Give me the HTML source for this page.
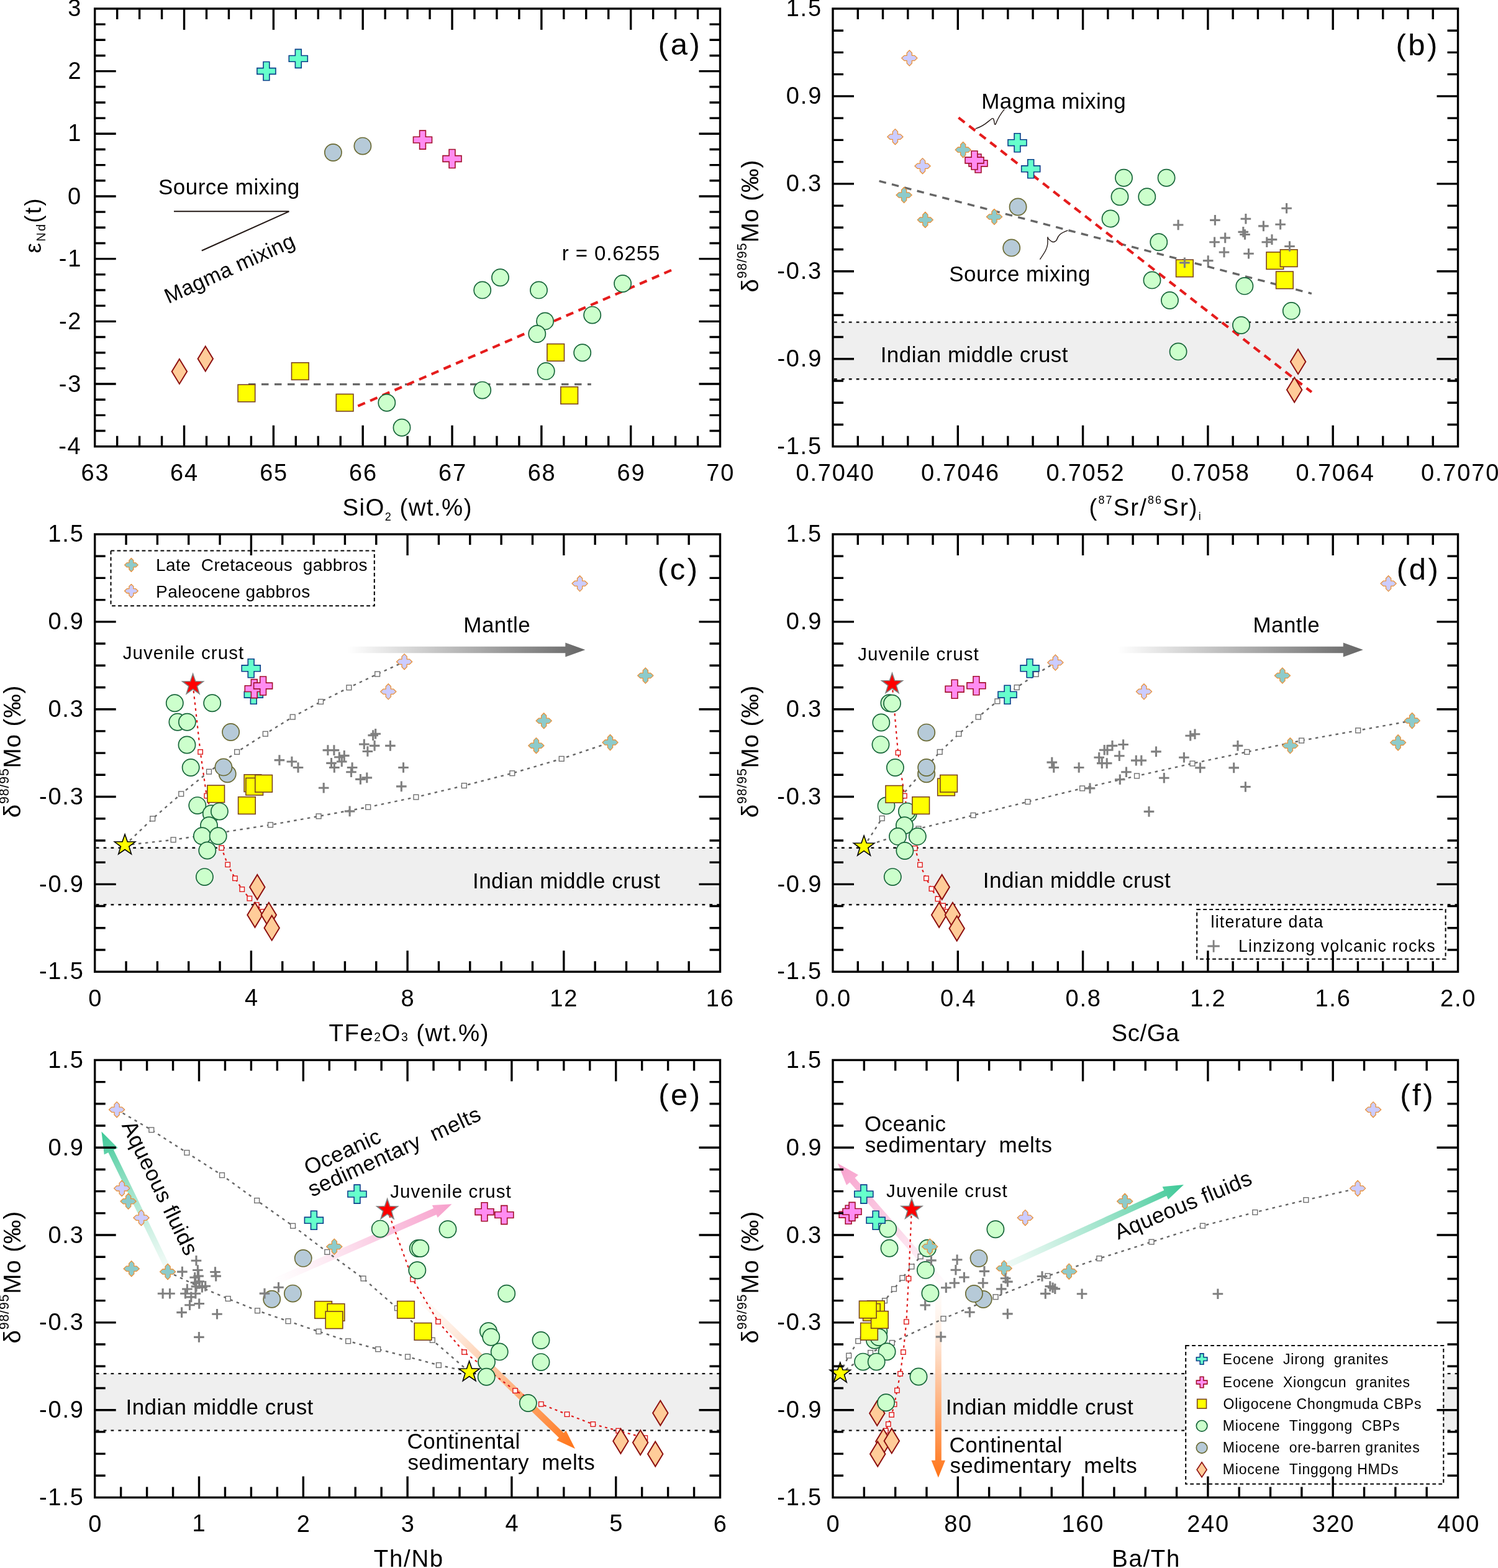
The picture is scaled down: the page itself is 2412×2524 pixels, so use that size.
<!DOCTYPE html>
<html><head><meta charset="utf-8"><title>Figure</title>
<style>
html,body{margin:0;padding:0;background:#fff;}
svg{display:block;}
text{font-family:"Liberation Sans", Arial, sans-serif;fill:#000;font-kerning:none;}
</style></head><body>
<svg xmlns="http://www.w3.org/2000/svg" width="2412" height="2524" viewBox="0 0 2412 2524">
<defs><linearGradient id="g1" gradientUnits="userSpaceOnUse" x1="560" y1="1046" x2="942.3" y2="1046"><stop offset="0" stop-color="#FFFFFF" stop-opacity="1"/><stop offset="1" stop-color="#666666" stop-opacity="1"/></linearGradient>
<linearGradient id="g2" gradientUnits="userSpaceOnUse" x1="1800" y1="1046" x2="2194.8" y2="1046"><stop offset="0" stop-color="#FFFFFF" stop-opacity="1"/><stop offset="1" stop-color="#666666" stop-opacity="1"/></linearGradient>
<linearGradient id="g3" gradientUnits="userSpaceOnUse" x1="267.4" y1="2036" x2="163.4" y2="1821.6"><stop offset="0" stop-color="#E6F7F0" stop-opacity="0.6"/><stop offset="1" stop-color="#3CC896" stop-opacity="1"/></linearGradient>
<linearGradient id="g4" gradientUnits="userSpaceOnUse" x1="440" y1="2064" x2="727.4" y2="1938.2"><stop offset="0" stop-color="#FDEEF5" stop-opacity="0"/><stop offset="0.3" stop-color="#FDEAF3" stop-opacity="1"/><stop offset="1" stop-color="#F7A0CC" stop-opacity="1"/></linearGradient>
<linearGradient id="g5" gradientUnits="userSpaceOnUse" x1="680" y1="2094" x2="926" y2="2331.9"><stop offset="0" stop-color="#FFF4EC" stop-opacity="0.3"/><stop offset="0.25" stop-color="#FEE6D6" stop-opacity="1"/><stop offset="1" stop-color="#FF7418" stop-opacity="1"/></linearGradient>
<linearGradient id="g6" gradientUnits="userSpaceOnUse" x1="1530" y1="2080" x2="1349" y2="1872.8"><stop offset="0" stop-color="#FDEEF5" stop-opacity="0"/><stop offset="0.3" stop-color="#FDEAF3" stop-opacity="1"/><stop offset="1" stop-color="#F7A0CC" stop-opacity="1"/></linearGradient>
<linearGradient id="g7" gradientUnits="userSpaceOnUse" x1="1618.3" y1="2038.1" x2="1906" y2="1907"><stop offset="0" stop-color="#E6F7F0" stop-opacity="0.6"/><stop offset="1" stop-color="#3CC896" stop-opacity="1"/></linearGradient>
<linearGradient id="g8" gradientUnits="userSpaceOnUse" x1="1510.8" y1="2085" x2="1510.8" y2="2378.6"><stop offset="0" stop-color="#FFF4EC" stop-opacity="0.3"/><stop offset="0.25" stop-color="#FEE6D6" stop-opacity="1"/><stop offset="1" stop-color="#FF7418" stop-opacity="1"/></linearGradient></defs>
<rect width="2412" height="2524" fill="#fff"/>
<g>
<path d="M280 340.3H465.4L324.8 403.5" fill="none" stroke="#231815" stroke-width="2"/>
<path d="M400 618.6 L951.8 618.6" fill="none" stroke="#666" stroke-width="3.4" stroke-dasharray="11.5 9.5"/>
<path d="M576.3 653.6 L1084.5 433.4" fill="none" stroke="#E51C1C" stroke-width="4.2" stroke-dasharray="12.5 9"/>
<path d="M288.9 577.9L301.1 597.9L288.9 617.9L276.7 597.9z" fill="#FFCC99" stroke="#8E1010" stroke-width="2"/>
<path d="M330.8 557.5L343 577.5L330.8 597.5L318.6 577.5z" fill="#FFCC99" stroke="#8E1010" stroke-width="2"/>
<circle cx="622.8" cy="648.2" r="13.6" fill="#CCFFCC" stroke="#17663A" stroke-width="1.7"/>
<circle cx="647" cy="688.2" r="13.6" fill="#CCFFCC" stroke="#17663A" stroke-width="1.7"/>
<circle cx="776.7" cy="466.9" r="13.6" fill="#CCFFCC" stroke="#17663A" stroke-width="1.7"/>
<circle cx="805.5" cy="446.7" r="13.6" fill="#CCFFCC" stroke="#17663A" stroke-width="1.7"/>
<circle cx="867.5" cy="466.9" r="13.6" fill="#CCFFCC" stroke="#17663A" stroke-width="1.7"/>
<circle cx="1002.6" cy="456.5" r="13.6" fill="#CCFFCC" stroke="#17663A" stroke-width="1.7"/>
<circle cx="877.6" cy="516.9" r="13.6" fill="#CCFFCC" stroke="#17663A" stroke-width="1.7"/>
<circle cx="864.8" cy="537.5" r="13.6" fill="#CCFFCC" stroke="#17663A" stroke-width="1.7"/>
<circle cx="953.7" cy="507.1" r="13.6" fill="#CCFFCC" stroke="#17663A" stroke-width="1.7"/>
<circle cx="937.7" cy="567.7" r="13.6" fill="#CCFFCC" stroke="#17663A" stroke-width="1.7"/>
<circle cx="879.2" cy="597.4" r="13.6" fill="#CCFFCC" stroke="#17663A" stroke-width="1.7"/>
<circle cx="776.7" cy="628.1" r="13.6" fill="#CCFFCC" stroke="#17663A" stroke-width="1.7"/>
<circle cx="536.4" cy="245.5" r="13.6" fill="#B6CAD8" stroke="#6B6B35" stroke-width="1.7"/>
<circle cx="583.9" cy="235.1" r="13.6" fill="#B6CAD8" stroke="#6B6B35" stroke-width="1.7"/>
<rect x="383.1" y="619.2" width="27.6" height="27.6" fill="#FFFF00" stroke="#7A4520" stroke-width="1.6"/>
<rect x="469.5" y="583.8" width="27.6" height="27.6" fill="#FFFF00" stroke="#7A4520" stroke-width="1.6"/>
<rect x="541.3" y="634.4" width="27.6" height="27.6" fill="#FFFF00" stroke="#7A4520" stroke-width="1.6"/>
<rect x="880.9" y="553.6" width="27.6" height="27.6" fill="#FFFF00" stroke="#7A4520" stroke-width="1.6"/>
<rect x="902.9" y="622.7" width="27.6" height="27.6" fill="#FFFF00" stroke="#7A4520" stroke-width="1.6"/>
<path d="M424 99.5h9.8v10.1h10.1v9.8h-10.1v10.1h-9.8v-10.1h-10.1v-9.8h10.1z" fill="#66FFCC" stroke="#0B3F8A" stroke-width="1.6"/>
<path d="M475.4 79.4h9.8v10.1h10.1v9.8h-10.1v10.1h-9.8v-10.1h-10.1v-9.8h10.1z" fill="#66FFCC" stroke="#0B3F8A" stroke-width="1.6"/>
<path d="M675.6 210.1h9.8v10.1h10.1v9.8h-10.1v10.1h-9.8v-10.1h-10.1v-9.8h10.1z" fill="#FF8CF2" stroke="#A3102E" stroke-width="1.6"/>
<path d="M723.1 240.5h9.8v10.1h10.1v9.8h-10.1v10.1h-9.8v-10.1h-10.1v-9.8h10.1z" fill="#FF8CF2" stroke="#A3102E" stroke-width="1.6"/>
<text x="255.01" y="313.36" style="font-size:35px;letter-spacing:0.45px">Source&#160;mixing</text>
<text x="0" y="0" transform="translate(271.2 489.2) rotate(-24.3)" style="font-size:34px;letter-spacing:0.45px">Magma&#160;mixing</text>
<text x="904.71" y="419.44" style="font-size:33px;letter-spacing:0.9px">r&#160;=&#160;0.6255</text>
<text x="1059.86" y="87.51" style="font-size:49px;letter-spacing:3.5px" fill="#231815">(a)</text>
<rect x="152.7" y="13.95" width="1006.8" height="704.75" fill="none" stroke="#000" stroke-width="3.4"/>
<path d="M188.66 13.95v17M188.66 718.7v-17M224.61 13.95v17M224.61 718.7v-17M260.57 13.95v17M260.57 718.7v-17M296.53 13.95v34M296.53 718.7v-34M332.49 13.95v17M332.49 718.7v-17M368.44 13.95v17M368.44 718.7v-17M404.4 13.95v17M404.4 718.7v-17M440.36 13.95v34M440.36 718.7v-34M476.31 13.95v17M476.31 718.7v-17M512.27 13.95v17M512.27 718.7v-17M548.23 13.95v17M548.23 718.7v-17M584.19 13.95v34M584.19 718.7v-34M620.14 13.95v17M620.14 718.7v-17M656.1 13.95v17M656.1 718.7v-17M692.06 13.95v17M692.06 718.7v-17M728.01 13.95v34M728.01 718.7v-34M763.97 13.95v17M763.97 718.7v-17M799.93 13.95v17M799.93 718.7v-17M835.89 13.95v17M835.89 718.7v-17M871.84 13.95v34M871.84 718.7v-34M907.8 13.95v17M907.8 718.7v-17M943.76 13.95v17M943.76 718.7v-17M979.71 13.95v17M979.71 718.7v-17M1015.67 13.95v34M1015.67 718.7v-34M1051.63 13.95v17M1051.63 718.7v-17M1087.59 13.95v17M1087.59 718.7v-17M1123.54 13.95v17M1123.54 718.7v-17M152.7 39.12h17M1159.5 39.12h-17M152.7 64.29h17M1159.5 64.29h-17M152.7 89.46h17M1159.5 89.46h-17M152.7 114.63h34M1159.5 114.63h-34M152.7 139.8h17M1159.5 139.8h-17M152.7 164.97h17M1159.5 164.97h-17M152.7 190.14h17M1159.5 190.14h-17M152.7 215.31h34M1159.5 215.31h-34M152.7 240.48h17M1159.5 240.48h-17M152.7 265.65h17M1159.5 265.65h-17M152.7 290.82h17M1159.5 290.82h-17M152.7 315.99h34M1159.5 315.99h-34M152.7 341.16h17M1159.5 341.16h-17M152.7 366.32h17M1159.5 366.32h-17M152.7 391.49h17M1159.5 391.49h-17M152.7 416.66h34M1159.5 416.66h-34M152.7 441.83h17M1159.5 441.83h-17M152.7 467h17M1159.5 467h-17M152.7 492.17h17M1159.5 492.17h-17M152.7 517.34h34M1159.5 517.34h-34M152.7 542.51h17M1159.5 542.51h-17M152.7 567.68h17M1159.5 567.68h-17M152.7 592.85h17M1159.5 592.85h-17M152.7 618.02h34M1159.5 618.02h-34M152.7 643.19h17M1159.5 643.19h-17M152.7 668.36h17M1159.5 668.36h-17M152.7 693.53h17M1159.5 693.53h-17" stroke="#000" stroke-width="3.4" fill="none"/>
<text x="130.54" y="774.03" style="font-size:38px;letter-spacing:1.8px">63</text>
<text x="274.09" y="774.03" style="font-size:38px;letter-spacing:1.8px">64</text>
<text x="418.16" y="774.03" style="font-size:38px;letter-spacing:1.8px">65</text>
<text x="562.02" y="774.03" style="font-size:38px;letter-spacing:1.8px">66</text>
<text x="705.97" y="774.03" style="font-size:38px;letter-spacing:1.8px">67</text>
<text x="849.67" y="774.03" style="font-size:38px;letter-spacing:1.8px">68</text>
<text x="993.57" y="774.03" style="font-size:38px;letter-spacing:1.8px">69</text>
<text x="1137.23" y="774.03" style="font-size:38px;letter-spacing:1.8px">70</text>
<text x="109.14" y="26.48" style="font-size:38px;letter-spacing:1.8px">3</text>
<text x="109.38" y="127.16" style="font-size:38px;letter-spacing:1.8px">2</text>
<text x="109.32" y="227.45" style="font-size:38px;letter-spacing:1.8px">1</text>
<text x="108.95" y="328.52" style="font-size:38px;letter-spacing:1.8px">0</text>
<text x="94.87" y="428.81" style="font-size:38px;letter-spacing:1.8px">-1</text>
<text x="94.92" y="529.88" style="font-size:38px;letter-spacing:1.8px">-2</text>
<text x="94.68" y="630.55" style="font-size:38px;letter-spacing:1.8px">-3</text>
<text x="94.13" y="730.84" style="font-size:38px;letter-spacing:1.8px">-4</text>
<text x="551.5" y="830" style="font-size:38.4px;letter-spacing:1.45px">SiO<tspan dy="7.5" style="font-size:18px">2</tspan><tspan dy="-7.5">&#160;(wt.%)</tspan></text>
<text x="-407.4" y="65.8" transform="rotate(-90)" style="font-size:36.9px;letter-spacing:2.2px" fill="#231815">ε<tspan dy="7.6" style="font-size:20px">Nd</tspan><tspan dy="-7.6">(t)</tspan></text>
</g>
<g>
<rect x="1341" y="518.66" width="1006.5" height="91.55" fill="#EFEFEF"/>
<path d="M1343 518.66H2347.5M1343 610.22H2347.5" stroke="#111" stroke-width="2.4" stroke-dasharray="4.8 7.1" fill="none"/>
<path d="M1415.6 291.4 L2111.9 472.6" fill="none" stroke="#666" stroke-width="3.4" stroke-dasharray="11.5 9.5"/>
<path d="M1543.4 189.4 L2111.9 631.2" fill="none" stroke="#E51C1C" stroke-width="4.2" stroke-dasharray="12.5 9"/>
<path d="M1570.6 207.1C1585 203 1590 196 1597 191C1602 188 1600 203 1603 200C1607 190 1612 182 1617.3 175.9" fill="none" stroke="#231815" stroke-width="1.4"/>
<path d="M1674.4 417.6C1683 405 1686 400 1686.8 393C1687.5 385 1686 378 1687.8 384C1693 389 1696 392 1701 387C1704 380 1705 376 1719.3 370.9" fill="none" stroke="#231815" stroke-width="1.4"/>
<path d="M2090.1 562.2L2102.3 582.2L2090.1 602.2L2077.9 582.2z" fill="#FFCC99" stroke="#8E1010" stroke-width="2"/>
<path d="M2084.2 607.6L2096.4 627.6L2084.2 647.6L2072 627.6z" fill="#FFCC99" stroke="#8E1010" stroke-width="2"/>
<circle cx="1809.5" cy="286.2" r="13.6" fill="#CCFFCC" stroke="#17663A" stroke-width="1.7"/>
<circle cx="1803" cy="316.7" r="13.6" fill="#CCFFCC" stroke="#17663A" stroke-width="1.7"/>
<circle cx="1788.1" cy="352" r="13.6" fill="#CCFFCC" stroke="#17663A" stroke-width="1.7"/>
<circle cx="1846.8" cy="316.7" r="13.6" fill="#CCFFCC" stroke="#17663A" stroke-width="1.7"/>
<circle cx="1878.1" cy="286.2" r="13.6" fill="#CCFFCC" stroke="#17663A" stroke-width="1.7"/>
<circle cx="1865.8" cy="389.7" r="13.6" fill="#CCFFCC" stroke="#17663A" stroke-width="1.7"/>
<circle cx="1855" cy="450.9" r="13.6" fill="#CCFFCC" stroke="#17663A" stroke-width="1.7"/>
<circle cx="1883.5" cy="483.5" r="13.6" fill="#CCFFCC" stroke="#17663A" stroke-width="1.7"/>
<circle cx="2003.9" cy="460.4" r="13.6" fill="#CCFFCC" stroke="#17663A" stroke-width="1.7"/>
<circle cx="2079.3" cy="500.4" r="13.6" fill="#CCFFCC" stroke="#17663A" stroke-width="1.7"/>
<circle cx="1998.5" cy="523.5" r="13.6" fill="#CCFFCC" stroke="#17663A" stroke-width="1.7"/>
<circle cx="1897.1" cy="565.9" r="13.6" fill="#CCFFCC" stroke="#17663A" stroke-width="1.7"/>
<circle cx="1639.1" cy="333" r="13.6" fill="#B6CAD8" stroke="#6B6B35" stroke-width="1.7"/>
<circle cx="1628.7" cy="398.9" r="13.6" fill="#B6CAD8" stroke="#6B6B35" stroke-width="1.7"/>
<rect x="1893.6" y="418.1" width="27.6" height="27.6" fill="#FFFF00" stroke="#7A4520" stroke-width="1.6"/>
<rect x="2039.1" y="405.8" width="27.6" height="27.6" fill="#FFFF00" stroke="#7A4520" stroke-width="1.6"/>
<rect x="2061.4" y="401.8" width="27.6" height="27.6" fill="#FFFF00" stroke="#7A4520" stroke-width="1.6"/>
<rect x="2054.6" y="437.1" width="27.6" height="27.6" fill="#FFFF00" stroke="#7A4520" stroke-width="1.6"/>
<path d="M1550.7 228.5 1554.8 232.8 1554.8 237 1559 237 1563.3 241.1 1559 245.2 1554.8 245.2 1554.8 249.4 1550.7 253.7 1546.6 249.4 1546.6 245.2 1542.4 245.2 1538.1 241.1 1542.4 237 1546.6 237 1546.6 232.8z" fill="#8DCBCB" stroke="#E8913A" stroke-width="1.3" stroke-linejoin="round"/>
<path d="M1455.6 301.4 1459.7 305.7 1459.7 309.9 1463.9 309.9 1468.2 314 1463.9 318.1 1459.7 318.1 1459.7 322.3 1455.6 326.6 1451.5 322.3 1451.5 318.1 1447.3 318.1 1443 314 1447.3 309.9 1451.5 309.9 1451.5 305.7z" fill="#8DCBCB" stroke="#E8913A" stroke-width="1.3" stroke-linejoin="round"/>
<path d="M1489.8 341.3 1493.9 345.6 1493.9 349.8 1498.1 349.8 1502.4 353.9 1498.1 358 1493.9 358 1493.9 362.2 1489.8 366.5 1485.7 362.2 1485.7 358 1481.5 358 1477.2 353.9 1481.5 349.8 1485.7 349.8 1485.7 345.6z" fill="#8DCBCB" stroke="#E8913A" stroke-width="1.3" stroke-linejoin="round"/>
<path d="M1601 336.4 1605.1 340.7 1605.1 344.9 1609.3 344.9 1613.6 349 1609.3 353.1 1605.1 353.1 1605.1 357.3 1601 361.6 1596.9 357.3 1596.9 353.1 1592.7 353.1 1588.4 349 1592.7 344.9 1596.9 344.9 1596.9 340.7z" fill="#8DCBCB" stroke="#E8913A" stroke-width="1.3" stroke-linejoin="round"/>
<path d="M1464.3 80.9 1468.4 85.2 1468.4 89.4 1472.6 89.4 1476.9 93.5 1472.6 97.6 1468.4 97.6 1468.4 101.8 1464.3 106.1 1460.2 101.8 1460.2 97.6 1456 97.6 1451.7 93.5 1456 89.4 1460.2 89.4 1460.2 85.2z" fill="#CCCCFF" stroke="#E8913A" stroke-width="1.3" stroke-linejoin="round"/>
<path d="M1441.4 207.6 1445.5 211.9 1445.5 216.1 1449.7 216.1 1454 220.2 1449.7 224.3 1445.5 224.3 1445.5 228.5 1441.4 232.8 1437.3 228.5 1437.3 224.3 1433.1 224.3 1428.8 220.2 1433.1 216.1 1437.3 216.1 1437.3 211.9z" fill="#CCCCFF" stroke="#E8913A" stroke-width="1.3" stroke-linejoin="round"/>
<path d="M1485.5 254.6 1489.6 258.9 1489.6 263.1 1493.8 263.1 1498.1 267.2 1493.8 271.3 1489.6 271.3 1489.6 275.5 1485.5 279.8 1481.4 275.5 1481.4 271.3 1477.2 271.3 1472.9 267.2 1477.2 263.1 1481.4 263.1 1481.4 258.9z" fill="#CCCCFF" stroke="#E8913A" stroke-width="1.3" stroke-linejoin="round"/>
<path d="M2063.3 335.3h16.6M2071.6 327v16.6M1888.8 362h16.6M1897.1 353.7v16.6M1948.1 354.4h16.6M1956.4 346.1v16.6M1997.6 352.2h16.6M2005.9 343.9v16.6M2026.1 363.9h16.6M2034.4 355.6v16.6M2053.3 361.2h16.6M2061.6 352.9v16.6M1993.5 373.4h16.6M2001.8 365.1v16.6M1996.2 377.5h16.6M2004.5 369.2v16.6M1964.4 382.9h16.6M1972.7 374.6v16.6M1947.3 389.7h16.6M1955.6 381.4v16.6M2039.7 385.6h16.6M2048 377.3v16.6M2031.5 389.7h16.6M2039.8 381.4v16.6M2068.2 396.5h16.6M2076.5 388.2v16.6M1962.7 406h16.6M1971 397.7v16.6M2002.2 408.2h16.6M2010.5 399.9v16.6M1936.9 419.6h16.6M1945.2 411.3v16.6M1899.1 422.9h16.6M1907.4 414.6v16.6" stroke="#808080" stroke-width="3.1" fill="none"/>
<path d="M1633.1 214.7h9.8v10.1h10.1v9.8h-10.1v10.1h-9.8v-10.1h-10.1v-9.8h10.1z" fill="#66FFCC" stroke="#0B3F8A" stroke-width="1.6"/>
<path d="M1654.8 256.8h9.8v10.1h10.1v9.8h-10.1v10.1h-9.8v-10.1h-10.1v-9.8h10.1z" fill="#66FFCC" stroke="#0B3F8A" stroke-width="1.6"/>
<path d="M1570.1 248h9.8v10.1h10.1v9.8h-10.1v10.1h-9.8v-10.1h-10.1v-9.8h10.1z" fill="#FF8CF2" stroke="#A3102E" stroke-width="1.6"/>
<path d="M1564.1 243h9.8v10.1h10.1v9.8h-10.1v10.1h-9.8v-10.1h-10.1v-9.8h10.1z" fill="#FF8CF2" stroke="#A3102E" stroke-width="1.6"/>
<text x="1580.13" y="175.36" style="font-size:35px;letter-spacing:0.45px">Magma&#160;mixing</text>
<text x="1528.21" y="452.86" style="font-size:35px;letter-spacing:0.45px">Source&#160;mixing</text>
<text x="1417.67" y="582.56" style="font-size:35px;letter-spacing:0.45px">Indian&#160;middle&#160;crust</text>
<text x="2247.46" y="89.01" style="font-size:49px;letter-spacing:3.5px" fill="#231815">(b)</text>
<rect x="1341" y="13.95" width="1006.5" height="704.75" fill="none" stroke="#000" stroke-width="3.4"/>
<path d="M1381.26 13.95v17M1381.26 718.7v-17M1421.52 13.95v17M1421.52 718.7v-17M1461.78 13.95v17M1461.78 718.7v-17M1502.04 13.95v17M1502.04 718.7v-17M1542.3 13.95v34M1542.3 718.7v-34M1582.56 13.95v17M1582.56 718.7v-17M1622.82 13.95v17M1622.82 718.7v-17M1663.08 13.95v17M1663.08 718.7v-17M1703.34 13.95v17M1703.34 718.7v-17M1743.6 13.95v34M1743.6 718.7v-34M1783.86 13.95v17M1783.86 718.7v-17M1824.12 13.95v17M1824.12 718.7v-17M1864.38 13.95v17M1864.38 718.7v-17M1904.64 13.95v17M1904.64 718.7v-17M1944.9 13.95v34M1944.9 718.7v-34M1985.16 13.95v17M1985.16 718.7v-17M2025.42 13.95v17M2025.42 718.7v-17M2065.68 13.95v17M2065.68 718.7v-17M2105.94 13.95v17M2105.94 718.7v-17M2146.2 13.95v34M2146.2 718.7v-34M2186.46 13.95v17M2186.46 718.7v-17M2226.72 13.95v17M2226.72 718.7v-17M2266.98 13.95v17M2266.98 718.7v-17M2307.24 13.95v17M2307.24 718.7v-17M1341 49.19h17M2347.5 49.19h-17M1341 84.42h17M2347.5 84.42h-17M1341 119.66h17M2347.5 119.66h-17M1341 154.9h34M2347.5 154.9h-34M1341 190.14h17M2347.5 190.14h-17M1341 225.38h17M2347.5 225.38h-17M1341 260.61h17M2347.5 260.61h-17M1341 295.85h34M2347.5 295.85h-34M1341 331.09h17M2347.5 331.09h-17M1341 366.32h17M2347.5 366.32h-17M1341 401.56h17M2347.5 401.56h-17M1341 436.8h34M2347.5 436.8h-34M1341 472.04h17M2347.5 472.04h-17M1341 507.27h17M2347.5 507.27h-17M1341 542.51h17M2347.5 542.51h-17M1341 577.75h34M2347.5 577.75h-34M1341 612.99h17M2347.5 612.99h-17M1341 648.23h17M2347.5 648.23h-17M1341 683.46h17M2347.5 683.46h-17" stroke="#000" stroke-width="3.4" fill="none"/>
<text x="1281.59" y="774.03" style="font-size:38px;letter-spacing:1.8px">0.7040</text>
<text x="1482.98" y="774.03" style="font-size:38px;letter-spacing:1.8px">0.7046</text>
<text x="1684.4" y="774.03" style="font-size:38px;letter-spacing:1.8px">0.7052</text>
<text x="1885.57" y="774.03" style="font-size:38px;letter-spacing:1.8px">0.7058</text>
<text x="2086.6" y="774.03" style="font-size:38px;letter-spacing:1.8px">0.7064</text>
<text x="2288.09" y="774.03" style="font-size:38px;letter-spacing:1.8px">0.7070</text>
<text x="1265.67" y="26.09" style="font-size:38px;letter-spacing:1.8px">1.5</text>
<text x="1265.87" y="167.43" style="font-size:38px;letter-spacing:1.8px">0.9</text>
<text x="1265.74" y="308.38" style="font-size:38px;letter-spacing:1.8px">0.3</text>
<text x="1251.29" y="449.33" style="font-size:38px;letter-spacing:1.8px">-0.3</text>
<text x="1251.42" y="590.28" style="font-size:38px;letter-spacing:1.8px">-0.9</text>
<text x="1251.22" y="730.84" style="font-size:38px;letter-spacing:1.8px">-1.5</text>
<text x="-470.49" y="1221.2" transform="rotate(-90)" style="font-size:38.5px;letter-spacing:0.9px" fill="#231815">δ<tspan dy="-19.3" style="font-size:21.2px">98/95</tspan><tspan dy="19.3">Mo&#160;(‰)</tspan></text>
<text x="1753.5" y="830" style="font-size:38.4px;letter-spacing:2.1px">(<tspan dy="-18.8" style="font-size:18px">87</tspan><tspan dy="18.8">Sr/</tspan><tspan dy="-18.8" style="font-size:18px">86</tspan><tspan dy="18.8">Sr)</tspan><tspan dy="6.7" style="font-size:17.5px">i</tspan></text>
</g>
<g>
<rect x="152.7" y="1364.71" width="1006.8" height="91.55" fill="#EFEFEF"/>
<path d="M154.7 1364.71H1159.5M154.7 1456.26H1159.5" stroke="#111" stroke-width="2.4" stroke-dasharray="4.8 7.1" fill="none"/>
<path d="M560 1051.3 L910.3 1051.3 L910.3 1057.6 L942.3 1046 L910.3 1034.4 L910.3 1040.7 L560 1040.7z" fill="url(#g1)"/>
<path d="M201.1 1360.5 L245.7 1317.8 L291.7 1277.9 L336.5 1242.2 L381.6 1210.4 L427.3 1181.3 L471.2 1154.1 L516.6 1129.5 L561.9 1106.8 L607.6 1085 L651.1 1065.2" fill="none" stroke="#666" stroke-width="2.4" stroke-dasharray="4.5 6.5"/>
<rect x="241.8" y="1313.9" width="7.8" height="7.8" fill="#fff" stroke="#707070" stroke-width="1.4"/>
<rect x="287.8" y="1274" width="7.8" height="7.8" fill="#fff" stroke="#707070" stroke-width="1.4"/>
<rect x="332.6" y="1238.3" width="7.8" height="7.8" fill="#fff" stroke="#707070" stroke-width="1.4"/>
<rect x="377.7" y="1206.5" width="7.8" height="7.8" fill="#fff" stroke="#707070" stroke-width="1.4"/>
<rect x="423.4" y="1177.4" width="7.8" height="7.8" fill="#fff" stroke="#707070" stroke-width="1.4"/>
<rect x="467.3" y="1150.2" width="7.8" height="7.8" fill="#fff" stroke="#707070" stroke-width="1.4"/>
<rect x="512.7" y="1125.6" width="7.8" height="7.8" fill="#fff" stroke="#707070" stroke-width="1.4"/>
<rect x="558" y="1102.9" width="7.8" height="7.8" fill="#fff" stroke="#707070" stroke-width="1.4"/>
<rect x="603.7" y="1081.1" width="7.8" height="7.8" fill="#fff" stroke="#707070" stroke-width="1.4"/>
<path d="M201.1 1360.5 L279.1 1351.8 L357 1340 L435.5 1327.8 L513.1 1313.9 L592.7 1299.2 L669.9 1283.1 L747.3 1264.6 L824.8 1244.7 L904.2 1221.4 L982.5 1195.1" fill="none" stroke="#666" stroke-width="2.4" stroke-dasharray="4.5 6.5"/>
<rect x="275.2" y="1347.9" width="7.8" height="7.8" fill="#fff" stroke="#707070" stroke-width="1.4"/>
<rect x="353.1" y="1336.1" width="7.8" height="7.8" fill="#fff" stroke="#707070" stroke-width="1.4"/>
<rect x="431.6" y="1323.9" width="7.8" height="7.8" fill="#fff" stroke="#707070" stroke-width="1.4"/>
<rect x="509.2" y="1310" width="7.8" height="7.8" fill="#fff" stroke="#707070" stroke-width="1.4"/>
<rect x="588.8" y="1295.3" width="7.8" height="7.8" fill="#fff" stroke="#707070" stroke-width="1.4"/>
<rect x="666" y="1279.2" width="7.8" height="7.8" fill="#fff" stroke="#707070" stroke-width="1.4"/>
<rect x="743.4" y="1260.7" width="7.8" height="7.8" fill="#fff" stroke="#707070" stroke-width="1.4"/>
<rect x="820.9" y="1240.8" width="7.8" height="7.8" fill="#fff" stroke="#707070" stroke-width="1.4"/>
<rect x="900.3" y="1217.5" width="7.8" height="7.8" fill="#fff" stroke="#707070" stroke-width="1.4"/>
<path d="M310.6 1102.4 L322.6 1210.4 L332.7 1281.1 L344.5 1323 L356.6 1364.9 L366.7 1391.8 L378.4 1413.8 L389.8 1431.5 L401.8 1446.2 L413.2 1456.5 L423.2 1467.4" fill="none" stroke="#E01B1B" stroke-width="2.2" stroke-dasharray="4 5.5"/>
<rect x="318.9" y="1206.7" width="7.4" height="7.4" fill="#fff" stroke="#E01B1B" stroke-width="1.4"/>
<rect x="329" y="1277.4" width="7.4" height="7.4" fill="#fff" stroke="#E01B1B" stroke-width="1.4"/>
<rect x="340.8" y="1319.3" width="7.4" height="7.4" fill="#fff" stroke="#E01B1B" stroke-width="1.4"/>
<rect x="352.9" y="1361.2" width="7.4" height="7.4" fill="#fff" stroke="#E01B1B" stroke-width="1.4"/>
<rect x="363" y="1388.1" width="7.4" height="7.4" fill="#fff" stroke="#E01B1B" stroke-width="1.4"/>
<rect x="374.7" y="1410.1" width="7.4" height="7.4" fill="#fff" stroke="#E01B1B" stroke-width="1.4"/>
<rect x="386.1" y="1427.8" width="7.4" height="7.4" fill="#fff" stroke="#E01B1B" stroke-width="1.4"/>
<rect x="398.1" y="1442.5" width="7.4" height="7.4" fill="#fff" stroke="#E01B1B" stroke-width="1.4"/>
<rect x="409.5" y="1452.8" width="7.4" height="7.4" fill="#fff" stroke="#E01B1B" stroke-width="1.4"/>
<rect x="419.5" y="1463.7" width="7.4" height="7.4" fill="#fff" stroke="#E01B1B" stroke-width="1.4"/>
<path d="M414.3 1408L426.5 1428L414.3 1448L402.1 1428z" fill="#FFCC99" stroke="#8E1010" stroke-width="2"/>
<path d="M410.5 1452.8L422.7 1472.8L410.5 1492.8L398.3 1472.8z" fill="#FFCC99" stroke="#8E1010" stroke-width="2"/>
<path d="M432.8 1452.8L445 1472.8L432.8 1492.8L420.6 1472.8z" fill="#FFCC99" stroke="#8E1010" stroke-width="2"/>
<path d="M437.7 1473.7L449.9 1493.7L437.7 1513.7L425.5 1493.7z" fill="#FFCC99" stroke="#8E1010" stroke-width="2"/>
<circle cx="281.3" cy="1131.8" r="13.6" fill="#CCFFCC" stroke="#17663A" stroke-width="1.7"/>
<circle cx="341.7" cy="1131.8" r="13.6" fill="#CCFFCC" stroke="#17663A" stroke-width="1.7"/>
<circle cx="285.9" cy="1162.2" r="13.6" fill="#CCFFCC" stroke="#17663A" stroke-width="1.7"/>
<circle cx="301.4" cy="1162.2" r="13.6" fill="#CCFFCC" stroke="#17663A" stroke-width="1.7"/>
<circle cx="301" cy="1199" r="13.6" fill="#CCFFCC" stroke="#17663A" stroke-width="1.7"/>
<circle cx="307.2" cy="1235.5" r="13.6" fill="#CCFFCC" stroke="#17663A" stroke-width="1.7"/>
<circle cx="317.8" cy="1296.6" r="13.6" fill="#CCFFCC" stroke="#17663A" stroke-width="1.7"/>
<circle cx="340.3" cy="1309.7" r="13.6" fill="#CCFFCC" stroke="#17663A" stroke-width="1.7"/>
<circle cx="353.4" cy="1306.1" r="13.6" fill="#CCFFCC" stroke="#17663A" stroke-width="1.7"/>
<circle cx="336.5" cy="1328.7" r="13.6" fill="#CCFFCC" stroke="#17663A" stroke-width="1.7"/>
<circle cx="325.4" cy="1345.8" r="13.6" fill="#CCFFCC" stroke="#17663A" stroke-width="1.7"/>
<circle cx="351.2" cy="1345.8" r="13.6" fill="#CCFFCC" stroke="#17663A" stroke-width="1.7"/>
<circle cx="333.8" cy="1369" r="13.6" fill="#CCFFCC" stroke="#17663A" stroke-width="1.7"/>
<circle cx="329.4" cy="1411.6" r="13.6" fill="#CCFFCC" stroke="#17663A" stroke-width="1.7"/>
<circle cx="371.6" cy="1178.5" r="13.6" fill="#B6CAD8" stroke="#6B6B35" stroke-width="1.7"/>
<circle cx="366.2" cy="1245.8" r="13.6" fill="#B6CAD8" stroke="#6B6B35" stroke-width="1.7"/>
<circle cx="359.9" cy="1234.9" r="13.6" fill="#B6CAD8" stroke="#6B6B35" stroke-width="1.7"/>
<rect x="333.9" y="1264.1" width="27.6" height="27.6" fill="#FFFF00" stroke="#7A4520" stroke-width="1.6"/>
<rect x="393.1" y="1246.9" width="27.6" height="27.6" fill="#FFFF00" stroke="#7A4520" stroke-width="1.6"/>
<rect x="395.9" y="1252.4" width="27.6" height="27.6" fill="#FFFF00" stroke="#7A4520" stroke-width="1.6"/>
<rect x="410.8" y="1247.5" width="27.6" height="27.6" fill="#FFFF00" stroke="#7A4520" stroke-width="1.6"/>
<rect x="383.6" y="1282.8" width="27.6" height="27.6" fill="#FFFF00" stroke="#7A4520" stroke-width="1.6"/>
<path d="M1039.3 1074.9 1043.4 1079.2 1043.4 1083.4 1047.6 1083.4 1051.9 1087.5 1047.6 1091.6 1043.4 1091.6 1043.4 1095.8 1039.3 1100.1 1035.2 1095.8 1035.2 1091.6 1031 1091.6 1026.7 1087.5 1031 1083.4 1035.2 1083.4 1035.2 1079.2z" fill="#8DCBCB" stroke="#E8913A" stroke-width="1.3" stroke-linejoin="round"/>
<path d="M875.7 1147.7 879.8 1152 879.8 1156.2 884 1156.2 888.3 1160.3 884 1164.4 879.8 1164.4 879.8 1168.6 875.7 1172.9 871.6 1168.6 871.6 1164.4 867.4 1164.4 863.1 1160.3 867.4 1156.2 871.6 1156.2 871.6 1152z" fill="#8DCBCB" stroke="#E8913A" stroke-width="1.3" stroke-linejoin="round"/>
<path d="M863.4 1187.6 867.5 1191.9 867.5 1196.1 871.7 1196.1 876 1200.2 871.7 1204.3 867.5 1204.3 867.5 1208.5 863.4 1212.8 859.3 1208.5 859.3 1204.3 855.1 1204.3 850.8 1200.2 855.1 1196.1 859.3 1196.1 859.3 1191.9z" fill="#8DCBCB" stroke="#E8913A" stroke-width="1.3" stroke-linejoin="round"/>
<path d="M982.5 1182.5 986.6 1186.8 986.6 1191 990.8 1191 995.1 1195.1 990.8 1199.2 986.6 1199.2 986.6 1203.4 982.5 1207.7 978.4 1203.4 978.4 1199.2 974.2 1199.2 969.9 1195.1 974.2 1191 978.4 1191 978.4 1186.8z" fill="#8DCBCB" stroke="#E8913A" stroke-width="1.3" stroke-linejoin="round"/>
<path d="M933.6 926.7 937.7 931 937.7 935.2 941.9 935.2 946.2 939.3 941.9 943.4 937.7 943.4 937.7 947.6 933.6 951.9 929.5 947.6 929.5 943.4 925.3 943.4 921 939.3 925.3 935.2 929.5 935.2 929.5 931z" fill="#CCCCFF" stroke="#E8913A" stroke-width="1.3" stroke-linejoin="round"/>
<path d="M651.1 1052.6 655.2 1056.9 655.2 1061.1 659.4 1061.1 663.7 1065.2 659.4 1069.3 655.2 1069.3 655.2 1073.5 651.1 1077.8 647 1073.5 647 1069.3 642.8 1069.3 638.5 1065.2 642.8 1061.1 647 1061.1 647 1056.9z" fill="#CCCCFF" stroke="#E8913A" stroke-width="1.3" stroke-linejoin="round"/>
<path d="M625.3 1100.7 629.4 1105 629.4 1109.2 633.6 1109.2 637.9 1113.3 633.6 1117.4 629.4 1117.4 629.4 1121.6 625.3 1125.9 621.2 1121.6 621.2 1117.4 617 1117.4 612.7 1113.3 617 1109.2 621.2 1109.2 621.2 1105z" fill="#CCCCFF" stroke="#E8913A" stroke-width="1.3" stroke-linejoin="round"/>
<path d="M441.6 1223.6h16.6M449.9 1215.3v16.6M461.6 1226h16.6M469.9 1217.7v16.6M471.7 1235.5h16.6M480 1227.2v16.6M519.6 1207.6h16.6M527.9 1199.3v16.6M529.6 1207.6h16.6M537.9 1199.3v16.6M525.2 1228.4h16.6M533.5 1220.1v16.6M530 1235.5h16.6M538.3 1227.2v16.6M538 1218.8h16.6M546.3 1210.5v16.6M546 1216.4h16.6M554.3 1208.1v16.6M542 1226h16.6M550.3 1217.7v16.6M558.8 1235.5h16.6M567.1 1227.2v16.6M557.2 1242.7h16.6M565.5 1234.4v16.6M572.1 1254.4h16.6M580.4 1246.1v16.6M582.5 1251.9h16.6M590.8 1243.6v16.6M512.9 1268.3h16.6M521.2 1260v16.6M578 1198h16.6M586.3 1189.7v16.6M594.8 1200.4h16.6M603.1 1192.1v16.6M583.6 1209.5h16.6M591.9 1201.2v16.6M592.4 1183.6h16.6M600.7 1175.3v16.6M596.4 1181.2h16.6M604.7 1172.9v16.6M620.1 1200.4h16.6M628.4 1192.1v16.6M641.2 1235.5h16.6M649.5 1227.2v16.6M638 1265.9h16.6M646.3 1257.6v16.6M554.8 1305.9h16.6M563.1 1297.6v16.6" stroke="#808080" stroke-width="3.1" fill="none"/>
<path d="M403.4 1103.2h9.8v10.1h10.1v9.8h-10.1v10.1h-9.8v-10.1h-10.1v-9.8h10.1z" fill="#66FFCC" stroke="#0B3F8A" stroke-width="1.6"/>
<path d="M399.3 1060.8h9.8v10.1h10.1v9.8h-10.1v10.1h-9.8v-10.1h-10.1v-9.8h10.1z" fill="#66FFCC" stroke="#0B3F8A" stroke-width="1.6"/>
<path d="M404.4 1093.6h9.8v10.1h10.1v9.8h-10.1v10.1h-9.8v-10.1h-10.1v-9.8h10.1z" fill="#FF8CF2" stroke="#A3102E" stroke-width="1.6"/>
<path d="M418.7 1089h9.8v10.1h10.1v9.8h-10.1v10.1h-9.8v-10.1h-10.1v-9.8h10.1z" fill="#FF8CF2" stroke="#A3102E" stroke-width="1.6"/>
<path d="M310.6 1084.8 314.71 1096.74 327.34 1096.96 317.26 1104.56 320.95 1116.64 310.6 1109.4 300.25 1116.64 303.94 1104.56 293.86 1096.96 306.49 1096.74z" fill="#FF0000" stroke="#7F7F7F" stroke-width="1.6"/>
<path d="M201.1 1342.9 205.21 1354.84 217.84 1355.06 207.76 1362.66 211.45 1374.74 201.1 1367.5 190.75 1374.74 194.44 1362.66 184.36 1355.06 196.99 1354.84z" fill="#FFFF00" stroke="#000000" stroke-width="1.6"/>
<text x="197.64" y="1061.48" style="font-size:29.5px;letter-spacing:1.1px">Juvenile&#160;crust</text>
<text x="746.33" y="1017.66" style="font-size:35px;letter-spacing:0.45px">Mantle</text>
<text x="760.97" y="1429.96" style="font-size:35px;letter-spacing:0.45px">Indian&#160;middle&#160;crust</text>
<text x="1058.86" y="932.61" style="font-size:49px;letter-spacing:3.5px" fill="#231815">(c)</text>
<rect x="178.5" y="886.4" width="424.3" height="88.8" fill="#fff" stroke="#000" stroke-width="2" stroke-dasharray="5.8 4.2"/>
<path d="M211.4 898.56 214.93 902.26 214.93 905.87 218.54 905.87 222.24 909.4 218.54 912.93 214.93 912.93 214.93 916.54 211.4 920.24 207.87 916.54 207.87 912.93 204.26 912.93 200.56 909.4 204.26 905.87 207.87 905.87 207.87 902.26z" fill="#8DCBCB" stroke="#E8913A" stroke-width="1.3" stroke-linejoin="round"/>
<path d="M211.4 940.36 214.93 944.06 214.93 947.67 218.54 947.67 222.24 951.2 218.54 954.73 214.93 954.73 214.93 958.34 211.4 962.04 207.87 958.34 207.87 954.73 204.26 954.73 200.56 951.2 204.26 947.67 207.87 947.67 207.87 944.06z" fill="#CCCCFF" stroke="#E8913A" stroke-width="1.3" stroke-linejoin="round"/>
<text x="251.1" y="919.29" style="font-size:28px;letter-spacing:0.43px">Late&#160;&#160;Cretaceous&#160;&#160;gabbros</text>
<text x="251.1" y="961.69" style="font-size:28px;letter-spacing:0.43px">Paleocene&#160;gabbros</text>
<rect x="152.7" y="860" width="1006.8" height="704.2" fill="none" stroke="#000" stroke-width="3.4"/>
<path d="M203.04 860v17M203.04 1564.2v-17M253.38 860v17M253.38 1564.2v-17M303.72 860v17M303.72 1564.2v-17M354.06 860v17M354.06 1564.2v-17M404.4 860v34M404.4 1564.2v-34M454.74 860v17M454.74 1564.2v-17M505.08 860v17M505.08 1564.2v-17M555.42 860v17M555.42 1564.2v-17M605.76 860v17M605.76 1564.2v-17M656.1 860v34M656.1 1564.2v-34M706.44 860v17M706.44 1564.2v-17M756.78 860v17M756.78 1564.2v-17M807.12 860v17M807.12 1564.2v-17M857.46 860v17M857.46 1564.2v-17M907.8 860v34M907.8 1564.2v-34M958.14 860v17M958.14 1564.2v-17M1008.48 860v17M1008.48 1564.2v-17M1058.82 860v17M1058.82 1564.2v-17M1109.16 860v17M1109.16 1564.2v-17M152.7 895.21h17M1159.5 895.21h-17M152.7 930.42h17M1159.5 930.42h-17M152.7 965.63h17M1159.5 965.63h-17M152.7 1000.84h34M1159.5 1000.84h-34M152.7 1036.05h17M1159.5 1036.05h-17M152.7 1071.26h17M1159.5 1071.26h-17M152.7 1106.47h17M1159.5 1106.47h-17M152.7 1141.68h34M1159.5 1141.68h-34M152.7 1176.89h17M1159.5 1176.89h-17M152.7 1212.1h17M1159.5 1212.1h-17M152.7 1247.31h17M1159.5 1247.31h-17M152.7 1282.52h34M1159.5 1282.52h-34M152.7 1317.73h17M1159.5 1317.73h-17M152.7 1352.94h17M1159.5 1352.94h-17M152.7 1388.15h17M1159.5 1388.15h-17M152.7 1423.36h34M1159.5 1423.36h-34M152.7 1458.57h17M1159.5 1458.57h-17M152.7 1493.78h17M1159.5 1493.78h-17M152.7 1528.99h17M1159.5 1528.99h-17" stroke="#000" stroke-width="3.4" fill="none"/>
<text x="142.13" y="1619.53" style="font-size:38px;letter-spacing:1.8px">0</text>
<text x="393.95" y="1619.14" style="font-size:38px;letter-spacing:1.8px">4</text>
<text x="645.53" y="1619.53" style="font-size:38px;letter-spacing:1.8px">8</text>
<text x="885.27" y="1619.53" style="font-size:38px;letter-spacing:1.8px">12</text>
<text x="1136.85" y="1619.53" style="font-size:38px;letter-spacing:1.8px">16</text>
<text x="77.37" y="872.14" style="font-size:38px;letter-spacing:1.8px">1.5</text>
<text x="77.57" y="1013.37" style="font-size:38px;letter-spacing:1.8px">0.9</text>
<text x="77.44" y="1154.21" style="font-size:38px;letter-spacing:1.8px">0.3</text>
<text x="62.99" y="1295.05" style="font-size:38px;letter-spacing:1.8px">-0.3</text>
<text x="63.12" y="1435.89" style="font-size:38px;letter-spacing:1.8px">-0.9</text>
<text x="62.92" y="1576.34" style="font-size:38px;letter-spacing:1.8px">-1.5</text>
<text x="-1316.27" y="32.9" transform="rotate(-90)" style="font-size:38.5px;letter-spacing:0.9px" fill="#231815">δ<tspan dy="-19.3" style="font-size:21.2px">98/95</tspan><tspan dy="19.3">Mo&#160;(‰)</tspan></text>
<text x="529.5" y="1676" style="font-size:38.4px;letter-spacing:1.5px">TFe<tspan style="font-size:19.3px">2</tspan>O<tspan style="font-size:19.3px">3</tspan>&#160;(wt.%)</text>
</g>
<g>
<rect x="1341" y="1364.71" width="1006.5" height="91.55" fill="#EFEFEF"/>
<path d="M1343 1364.71H2347.5M1343 1456.26H2347.5" stroke="#111" stroke-width="2.4" stroke-dasharray="4.8 7.1" fill="none"/>
<path d="M1800 1051.3 L2162.8 1051.3 L2162.8 1057.6 L2194.8 1046 L2162.8 1034.4 L2162.8 1040.7 L1800 1040.7z" fill="url(#g2)"/>
<path d="M1391.1 1362.7 L1420.2 1317.3 L1451.2 1281.5 L1482.2 1245.8 L1513.2 1210.4 L1543.9 1181.3 L1575.2 1154.1 L1605.9 1128.8 L1637.2 1106.5 L1668.2 1085.3 L1699.4 1066.5" fill="none" stroke="#666" stroke-width="2.4" stroke-dasharray="4.5 6.5"/>
<rect x="1416.3" y="1313.4" width="7.8" height="7.8" fill="#fff" stroke="#707070" stroke-width="1.4"/>
<rect x="1447.3" y="1277.6" width="7.8" height="7.8" fill="#fff" stroke="#707070" stroke-width="1.4"/>
<rect x="1478.3" y="1241.9" width="7.8" height="7.8" fill="#fff" stroke="#707070" stroke-width="1.4"/>
<rect x="1509.3" y="1206.5" width="7.8" height="7.8" fill="#fff" stroke="#707070" stroke-width="1.4"/>
<rect x="1540" y="1177.4" width="7.8" height="7.8" fill="#fff" stroke="#707070" stroke-width="1.4"/>
<rect x="1571.3" y="1150.2" width="7.8" height="7.8" fill="#fff" stroke="#707070" stroke-width="1.4"/>
<rect x="1602" y="1124.9" width="7.8" height="7.8" fill="#fff" stroke="#707070" stroke-width="1.4"/>
<rect x="1633.3" y="1102.6" width="7.8" height="7.8" fill="#fff" stroke="#707070" stroke-width="1.4"/>
<rect x="1664.3" y="1081.4" width="7.8" height="7.8" fill="#fff" stroke="#707070" stroke-width="1.4"/>
<path d="M1391.1 1362.7 L1479 1334 L1567 1312.4 L1654.8 1290.6 L1742.6 1269 L1830.5 1249 L1920 1229 L2007.8 1210.4 L2095.6 1192.1 L2186.7 1175.8 L2273.7 1160.1" fill="none" stroke="#666" stroke-width="2.4" stroke-dasharray="4.5 6.5"/>
<rect x="1475.1" y="1330.1" width="7.8" height="7.8" fill="#fff" stroke="#707070" stroke-width="1.4"/>
<rect x="1563.1" y="1308.5" width="7.8" height="7.8" fill="#fff" stroke="#707070" stroke-width="1.4"/>
<rect x="1650.9" y="1286.7" width="7.8" height="7.8" fill="#fff" stroke="#707070" stroke-width="1.4"/>
<rect x="1738.7" y="1265.1" width="7.8" height="7.8" fill="#fff" stroke="#707070" stroke-width="1.4"/>
<rect x="1826.6" y="1245.1" width="7.8" height="7.8" fill="#fff" stroke="#707070" stroke-width="1.4"/>
<rect x="1916.1" y="1225.1" width="7.8" height="7.8" fill="#fff" stroke="#707070" stroke-width="1.4"/>
<rect x="2003.9" y="1206.5" width="7.8" height="7.8" fill="#fff" stroke="#707070" stroke-width="1.4"/>
<rect x="2091.7" y="1188.2" width="7.8" height="7.8" fill="#fff" stroke="#707070" stroke-width="1.4"/>
<rect x="2182.8" y="1171.9" width="7.8" height="7.8" fill="#fff" stroke="#707070" stroke-width="1.4"/>
<path d="M1436.5 1101.1 L1446 1211.7 L1456.4 1281.1 L1464.8 1323 L1473.2 1365.4 L1481.4 1392.1 L1491.4 1413.8 L1499.9 1430.7 L1509.9 1447 L1518.6 1457.9 L1524.9 1467.4" fill="none" stroke="#E01B1B" stroke-width="2.2" stroke-dasharray="4 5.5"/>
<rect x="1442.3" y="1208" width="7.4" height="7.4" fill="#fff" stroke="#E01B1B" stroke-width="1.4"/>
<rect x="1452.7" y="1277.4" width="7.4" height="7.4" fill="#fff" stroke="#E01B1B" stroke-width="1.4"/>
<rect x="1461.1" y="1319.3" width="7.4" height="7.4" fill="#fff" stroke="#E01B1B" stroke-width="1.4"/>
<rect x="1469.5" y="1361.7" width="7.4" height="7.4" fill="#fff" stroke="#E01B1B" stroke-width="1.4"/>
<rect x="1477.7" y="1388.4" width="7.4" height="7.4" fill="#fff" stroke="#E01B1B" stroke-width="1.4"/>
<rect x="1487.7" y="1410.1" width="7.4" height="7.4" fill="#fff" stroke="#E01B1B" stroke-width="1.4"/>
<rect x="1496.2" y="1427" width="7.4" height="7.4" fill="#fff" stroke="#E01B1B" stroke-width="1.4"/>
<rect x="1506.2" y="1443.3" width="7.4" height="7.4" fill="#fff" stroke="#E01B1B" stroke-width="1.4"/>
<rect x="1514.9" y="1454.2" width="7.4" height="7.4" fill="#fff" stroke="#E01B1B" stroke-width="1.4"/>
<rect x="1521.2" y="1463.7" width="7.4" height="7.4" fill="#fff" stroke="#E01B1B" stroke-width="1.4"/>
<path d="M1516.7 1408L1528.9 1428L1516.7 1448L1504.5 1428z" fill="#FFCC99" stroke="#8E1010" stroke-width="2"/>
<path d="M1512.1 1452.8L1524.3 1472.8L1512.1 1492.8L1499.9 1472.8z" fill="#FFCC99" stroke="#8E1010" stroke-width="2"/>
<path d="M1533.9 1452.8L1546.1 1472.8L1533.9 1492.8L1521.7 1472.8z" fill="#FFCC99" stroke="#8E1010" stroke-width="2"/>
<path d="M1540.7 1474.6L1552.9 1494.6L1540.7 1514.6L1528.5 1494.6z" fill="#FFCC99" stroke="#8E1010" stroke-width="2"/>
<circle cx="1431.9" cy="1131.8" r="13.6" fill="#CCFFCC" stroke="#17663A" stroke-width="1.7"/>
<circle cx="1436.5" cy="1132.3" r="13.6" fill="#CCFFCC" stroke="#17663A" stroke-width="1.7"/>
<circle cx="1418.8" cy="1163" r="13.6" fill="#CCFFCC" stroke="#17663A" stroke-width="1.7"/>
<circle cx="1418" cy="1198.6" r="13.6" fill="#CCFFCC" stroke="#17663A" stroke-width="1.7"/>
<circle cx="1441.4" cy="1235.5" r="13.6" fill="#CCFFCC" stroke="#17663A" stroke-width="1.7"/>
<circle cx="1427" cy="1296.9" r="13.6" fill="#CCFFCC" stroke="#17663A" stroke-width="1.7"/>
<circle cx="1462.3" cy="1309.7" r="13.6" fill="#CCFFCC" stroke="#17663A" stroke-width="1.7"/>
<circle cx="1460.4" cy="1306.1" r="13.6" fill="#CCFFCC" stroke="#17663A" stroke-width="1.7"/>
<circle cx="1456.4" cy="1328.7" r="13.6" fill="#CCFFCC" stroke="#17663A" stroke-width="1.7"/>
<circle cx="1445.5" cy="1346.4" r="13.6" fill="#CCFFCC" stroke="#17663A" stroke-width="1.7"/>
<circle cx="1477.3" cy="1346.4" r="13.6" fill="#CCFFCC" stroke="#17663A" stroke-width="1.7"/>
<circle cx="1456.9" cy="1369.5" r="13.6" fill="#CCFFCC" stroke="#17663A" stroke-width="1.7"/>
<circle cx="1437.3" cy="1411.6" r="13.6" fill="#CCFFCC" stroke="#17663A" stroke-width="1.7"/>
<circle cx="1491.7" cy="1179.1" r="13.6" fill="#B6CAD8" stroke="#6B6B35" stroke-width="1.7"/>
<circle cx="1491.7" cy="1245.8" r="13.6" fill="#B6CAD8" stroke="#6B6B35" stroke-width="1.7"/>
<circle cx="1491.7" cy="1235.5" r="13.6" fill="#B6CAD8" stroke="#6B6B35" stroke-width="1.7"/>
<rect x="1426" y="1264.6" width="27.6" height="27.6" fill="#FFFF00" stroke="#7A4520" stroke-width="1.6"/>
<rect x="1468.9" y="1282.8" width="27.6" height="27.6" fill="#FFFF00" stroke="#7A4520" stroke-width="1.6"/>
<rect x="1509.7" y="1253.2" width="27.6" height="27.6" fill="#FFFF00" stroke="#7A4520" stroke-width="1.6"/>
<rect x="1513.8" y="1247.5" width="27.6" height="27.6" fill="#FFFF00" stroke="#7A4520" stroke-width="1.6"/>
<path d="M2064.9 1074.9 2069 1079.2 2069 1083.4 2073.2 1083.4 2077.5 1087.5 2073.2 1091.6 2069 1091.6 2069 1095.8 2064.9 1100.1 2060.8 1095.8 2060.8 1091.6 2056.6 1091.6 2052.3 1087.5 2056.6 1083.4 2060.8 1083.4 2060.8 1079.2z" fill="#8DCBCB" stroke="#E8913A" stroke-width="1.3" stroke-linejoin="round"/>
<path d="M2273.7 1147.5 2277.8 1151.8 2277.8 1156 2282 1156 2286.3 1160.1 2282 1164.2 2277.8 1164.2 2277.8 1168.4 2273.7 1172.7 2269.6 1168.4 2269.6 1164.2 2265.4 1164.2 2261.1 1160.1 2265.4 1156 2269.6 1156 2269.6 1151.8z" fill="#8DCBCB" stroke="#E8913A" stroke-width="1.3" stroke-linejoin="round"/>
<path d="M2251.1 1182.8 2255.2 1187.1 2255.2 1191.3 2259.4 1191.3 2263.7 1195.4 2259.4 1199.5 2255.2 1199.5 2255.2 1203.7 2251.1 1208 2247 1203.7 2247 1199.5 2242.8 1199.5 2238.5 1195.4 2242.8 1191.3 2247 1191.3 2247 1187.1z" fill="#8DCBCB" stroke="#E8913A" stroke-width="1.3" stroke-linejoin="round"/>
<path d="M2077.4 1187.7 2081.5 1192 2081.5 1196.2 2085.7 1196.2 2090 1200.3 2085.7 1204.4 2081.5 1204.4 2081.5 1208.6 2077.4 1212.9 2073.3 1208.6 2073.3 1204.4 2069.1 1204.4 2064.8 1200.3 2069.1 1196.2 2073.3 1196.2 2073.3 1192z" fill="#8DCBCB" stroke="#E8913A" stroke-width="1.3" stroke-linejoin="round"/>
<path d="M1699.4 1053.9 1703.5 1058.2 1703.5 1062.4 1707.7 1062.4 1712 1066.5 1707.7 1070.6 1703.5 1070.6 1703.5 1074.8 1699.4 1079.1 1695.3 1074.8 1695.3 1070.6 1691.1 1070.6 1686.8 1066.5 1691.1 1062.4 1695.3 1062.4 1695.3 1058.2z" fill="#CCCCFF" stroke="#E8913A" stroke-width="1.3" stroke-linejoin="round"/>
<path d="M1842 1100.7 1846.1 1105 1846.1 1109.2 1850.3 1109.2 1854.6 1113.3 1850.3 1117.4 1846.1 1117.4 1846.1 1121.6 1842 1125.9 1837.9 1121.6 1837.9 1117.4 1833.7 1117.4 1829.4 1113.3 1833.7 1109.2 1837.9 1109.2 1837.9 1105z" fill="#CCCCFF" stroke="#E8913A" stroke-width="1.3" stroke-linejoin="round"/>
<path d="M2235.6 926.7 2239.7 931 2239.7 935.2 2243.9 935.2 2248.2 939.3 2243.9 943.4 2239.7 943.4 2239.7 947.6 2235.6 951.9 2231.5 947.6 2231.5 943.4 2227.3 943.4 2223 939.3 2227.3 935.2 2231.5 935.2 2231.5 931z" fill="#CCCCFF" stroke="#E8913A" stroke-width="1.3" stroke-linejoin="round"/>
<path d="M1685.5 1227.1h16.6M1693.8 1218.8v16.6M1688.5 1235.5h16.6M1696.8 1227.2v16.6M1728.9 1235.5h16.6M1737.2 1227.2v16.6M1761.4 1219.2h16.6M1769.7 1210.9v16.6M1766 1228.6h16.6M1774.3 1220.3v16.6M1773.9 1228.6h16.6M1782.2 1220.3v16.6M1769.9 1207.3h16.6M1778.2 1199v16.6M1774.7 1207.3h16.6M1783 1199v16.6M1782.7 1200.4h16.6M1791 1192.1v16.6M1800.3 1198.5h16.6M1808.6 1190.2v16.6M1794 1216.8h16.6M1802.3 1208.5v16.6M1821 1224.1h16.6M1829.3 1215.8v16.6M1829.5 1224.1h16.6M1837.8 1215.8v16.6M1853.2 1209.9h16.6M1861.5 1201.6v16.6M1908.4 1184.3h16.6M1916.7 1176v16.6M1915.7 1181.7h16.6M1924 1173.4v16.6M1898.1 1219.2h16.6M1906.4 1210.9v16.6M1924.2 1235.9h16.6M1932.5 1227.6v16.6M1984.7 1200.4h16.6M1993 1192.1v16.6M1978.4 1235.9h16.6M1986.7 1227.6v16.6M1997.1 1266.5h16.6M2005.4 1258.2v16.6M1866 1252.3h16.6M1874.3 1244v16.6M1805.2 1242.8h16.6M1813.5 1234.5v16.6M1795 1254.7h16.6M1803.3 1246.4v16.6M1746.7 1268.9h16.6M1755 1260.6v16.6M1841.7 1306.4h16.6M1850 1298.1v16.6" stroke="#808080" stroke-width="3.1" fill="none"/>
<path d="M1653.2 1060.8h9.8v10.1h10.1v9.8h-10.1v10.1h-9.8v-10.1h-10.1v-9.8h10.1z" fill="#66FFCC" stroke="#0B3F8A" stroke-width="1.6"/>
<path d="M1617.1 1103.2h9.8v10.1h10.1v9.8h-10.1v10.1h-9.8v-10.1h-10.1v-9.8h10.1z" fill="#66FFCC" stroke="#0B3F8A" stroke-width="1.6"/>
<path d="M1532.2 1094.2h9.8v10.1h10.1v9.8h-10.1v10.1h-9.8v-10.1h-10.1v-9.8h10.1z" fill="#FF8CF2" stroke="#A3102E" stroke-width="1.6"/>
<path d="M1567 1088.8h9.8v10.1h10.1v9.8h-10.1v10.1h-9.8v-10.1h-10.1v-9.8h10.1z" fill="#FF8CF2" stroke="#A3102E" stroke-width="1.6"/>
<path d="M1436.5 1083.5 1440.61 1095.44 1453.24 1095.66 1443.16 1103.26 1446.85 1115.34 1436.5 1108.1 1426.15 1115.34 1429.84 1103.26 1419.76 1095.66 1432.39 1095.44z" fill="#FF0000" stroke="#7F7F7F" stroke-width="1.6"/>
<path d="M1391.1 1345.1 1395.21 1357.04 1407.84 1357.26 1397.76 1364.86 1401.45 1376.94 1391.1 1369.7 1380.75 1376.94 1384.44 1364.86 1374.36 1357.26 1386.99 1357.04z" fill="#FFFF00" stroke="#000000" stroke-width="1.6"/>
<text x="1381.14" y="1062.58" style="font-size:29.5px;letter-spacing:1.1px">Juvenile&#160;crust</text>
<text x="2017.43" y="1017.66" style="font-size:35px;letter-spacing:0.45px">Mantle</text>
<text x="1582.87" y="1428.86" style="font-size:35px;letter-spacing:0.45px">Indian&#160;middle&#160;crust</text>
<text x="2248.86" y="932.61" style="font-size:49px;letter-spacing:3.5px" fill="#231815">(d)</text>
<rect x="1927.2" y="1463.9" width="400.4" height="79.9" fill="#fff" stroke="#000" stroke-width="2" stroke-dasharray="5.8 4.2"/>
<text x="1949.49" y="1493.42" style="font-size:26.8px;letter-spacing:1.2px">literature&#160;data</text>
<path d="M1944.4 1523h19.4M1954.1 1513.3v19.4" stroke="#808080" stroke-width="2.8" fill="none"/>
<text x="1994" y="1532.32" style="font-size:26.8px;letter-spacing:1.2px">Linzizong&#160;volcanic&#160;rocks</text>
<rect x="1341" y="860" width="1006.5" height="704.2" fill="none" stroke="#000" stroke-width="3.4"/>
<path d="M1381.26 860v17M1381.26 1564.2v-17M1421.52 860v17M1421.52 1564.2v-17M1461.78 860v17M1461.78 1564.2v-17M1502.04 860v17M1502.04 1564.2v-17M1542.3 860v34M1542.3 1564.2v-34M1582.56 860v17M1582.56 1564.2v-17M1622.82 860v17M1622.82 1564.2v-17M1663.08 860v17M1663.08 1564.2v-17M1703.34 860v17M1703.34 1564.2v-17M1743.6 860v34M1743.6 1564.2v-34M1783.86 860v17M1783.86 1564.2v-17M1824.12 860v17M1824.12 1564.2v-17M1864.38 860v17M1864.38 1564.2v-17M1904.64 860v17M1904.64 1564.2v-17M1944.9 860v34M1944.9 1564.2v-34M1985.16 860v17M1985.16 1564.2v-17M2025.42 860v17M2025.42 1564.2v-17M2065.68 860v17M2065.68 1564.2v-17M2105.94 860v17M2105.94 1564.2v-17M2146.2 860v34M2146.2 1564.2v-34M2186.46 860v17M2186.46 1564.2v-17M2226.72 860v17M2226.72 1564.2v-17M2266.98 860v17M2266.98 1564.2v-17M2307.24 860v17M2307.24 1564.2v-17M1341 895.21h17M2347.5 895.21h-17M1341 930.42h17M2347.5 930.42h-17M1341 965.63h17M2347.5 965.63h-17M1341 1000.84h34M2347.5 1000.84h-34M1341 1036.05h17M2347.5 1036.05h-17M1341 1071.26h17M2347.5 1071.26h-17M1341 1106.47h17M2347.5 1106.47h-17M1341 1141.68h34M2347.5 1141.68h-34M1341 1176.89h17M2347.5 1176.89h-17M1341 1212.1h17M2347.5 1212.1h-17M1341 1247.31h17M2347.5 1247.31h-17M1341 1282.52h34M2347.5 1282.52h-34M1341 1317.73h17M2347.5 1317.73h-17M1341 1352.94h17M2347.5 1352.94h-17M1341 1388.15h17M2347.5 1388.15h-17M1341 1423.36h34M2347.5 1423.36h-34M1341 1458.57h17M2347.5 1458.57h-17M1341 1493.78h17M2347.5 1493.78h-17M1341 1528.99h17M2347.5 1528.99h-17" stroke="#000" stroke-width="3.4" fill="none"/>
<text x="1312.79" y="1619.53" style="font-size:38px;letter-spacing:1.8px">0.0</text>
<text x="1513.9" y="1619.53" style="font-size:38px;letter-spacing:1.8px">0.4</text>
<text x="1715.47" y="1619.53" style="font-size:38px;letter-spacing:1.8px">0.8</text>
<text x="1916.2" y="1619.53" style="font-size:38px;letter-spacing:1.8px">1.2</text>
<text x="2117.38" y="1619.53" style="font-size:38px;letter-spacing:1.8px">1.6</text>
<text x="2319.07" y="1619.53" style="font-size:38px;letter-spacing:1.8px">2.0</text>
<text x="1265.67" y="872.14" style="font-size:38px;letter-spacing:1.8px">1.5</text>
<text x="1265.87" y="1013.37" style="font-size:38px;letter-spacing:1.8px">0.9</text>
<text x="1265.74" y="1154.21" style="font-size:38px;letter-spacing:1.8px">0.3</text>
<text x="1251.29" y="1295.05" style="font-size:38px;letter-spacing:1.8px">-0.3</text>
<text x="1251.42" y="1435.89" style="font-size:38px;letter-spacing:1.8px">-0.9</text>
<text x="1251.22" y="1576.34" style="font-size:38px;letter-spacing:1.8px">-1.5</text>
<text x="-1316.27" y="1221.2" transform="rotate(-90)" style="font-size:38.5px;letter-spacing:0.9px" fill="#231815">δ<tspan dy="-19.3" style="font-size:21.2px">98/95</tspan><tspan dy="19.3">Mo&#160;(‰)</tspan></text>
<text x="1789.46" y="1676.3" style="font-size:38.4px;letter-spacing:0.6px">Sc/Ga</text>
</g>
<g>
<rect x="152.7" y="2211.11" width="1006.8" height="91.55" fill="#EFEFEF"/>
<path d="M154.7 2211.11H1159.5M154.7 2302.66H1159.5" stroke="#111" stroke-width="2.4" stroke-dasharray="4.8 7.1" fill="none"/>
<path d="M271.67 2033.93 L182.95 1851.02 L189.61 1847.79 L163.4 1821.6 L167.74 1858.39 L174.4 1855.16 L263.13 2038.07z" fill="url(#g3)"/>
<path d="M442.27 2069.18 L702.55 1955.25 L704.65 1960.05 L727.4 1938.2 L695.91 1940.08 L698.02 1944.89 L437.73 2058.82z" fill="url(#g4)"/>
<path d="M676.18 2097.95 L899.96 2314.37 L896.28 2318.18 L926 2331.9 L911.3 2302.66 L907.61 2306.47 L683.82 2090.05z" fill="url(#g5)"/>
<path d="M188.1 1786.2 L243.8 1818.8 L300.9 1855.5 L357.5 1891.7 L413.7 1932.5 L471.6 1973.3 L526.8 2015.4 L585 2058 L639.4 2105.7 L696.3 2157.2 L755.3 2208.1" fill="none" stroke="#666" stroke-width="2.4" stroke-dasharray="4.5 6.5"/>
<rect x="239.9" y="1814.9" width="7.8" height="7.8" fill="#fff" stroke="#707070" stroke-width="1.4"/>
<rect x="297" y="1851.6" width="7.8" height="7.8" fill="#fff" stroke="#707070" stroke-width="1.4"/>
<rect x="353.6" y="1887.8" width="7.8" height="7.8" fill="#fff" stroke="#707070" stroke-width="1.4"/>
<rect x="409.8" y="1928.6" width="7.8" height="7.8" fill="#fff" stroke="#707070" stroke-width="1.4"/>
<rect x="467.7" y="1969.4" width="7.8" height="7.8" fill="#fff" stroke="#707070" stroke-width="1.4"/>
<rect x="522.9" y="2011.5" width="7.8" height="7.8" fill="#fff" stroke="#707070" stroke-width="1.4"/>
<rect x="581.1" y="2054.1" width="7.8" height="7.8" fill="#fff" stroke="#707070" stroke-width="1.4"/>
<rect x="635.5" y="2101.8" width="7.8" height="7.8" fill="#fff" stroke="#707070" stroke-width="1.4"/>
<rect x="692.4" y="2153.3" width="7.8" height="7.8" fill="#fff" stroke="#707070" stroke-width="1.4"/>
<path d="M270.1 2047.1 L318 2070 L367.2 2090.5 L414.5 2109.8 L464 2126.7 L513 2143.3 L560.6 2158.8 L608.7 2171.8 L656.5 2184 L706.4 2197.5 L755.3 2208.1" fill="none" stroke="#666" stroke-width="2.4" stroke-dasharray="4.5 6.5"/>
<rect x="314.1" y="2066.1" width="7.8" height="7.8" fill="#fff" stroke="#707070" stroke-width="1.4"/>
<rect x="363.3" y="2086.6" width="7.8" height="7.8" fill="#fff" stroke="#707070" stroke-width="1.4"/>
<rect x="410.6" y="2105.9" width="7.8" height="7.8" fill="#fff" stroke="#707070" stroke-width="1.4"/>
<rect x="460.1" y="2122.8" width="7.8" height="7.8" fill="#fff" stroke="#707070" stroke-width="1.4"/>
<rect x="509.1" y="2139.4" width="7.8" height="7.8" fill="#fff" stroke="#707070" stroke-width="1.4"/>
<rect x="556.7" y="2154.9" width="7.8" height="7.8" fill="#fff" stroke="#707070" stroke-width="1.4"/>
<rect x="604.8" y="2167.9" width="7.8" height="7.8" fill="#fff" stroke="#707070" stroke-width="1.4"/>
<rect x="652.6" y="2180.1" width="7.8" height="7.8" fill="#fff" stroke="#707070" stroke-width="1.4"/>
<rect x="702.5" y="2193.6" width="7.8" height="7.8" fill="#fff" stroke="#707070" stroke-width="1.4"/>
<path d="M623.6 1947.4 L644 2003 L664.6 2059.3 L705.5 2127.5 L747.5 2176.5 L788.5 2207.5 L829.6 2238.6 L871.3 2260.2 L913 2276.6 L954.8 2292.5 L995.6 2303.1 L1038.8 2314.6" fill="none" stroke="#E01B1B" stroke-width="2.2" stroke-dasharray="4 5.5"/>
<rect x="660.9" y="2055.6" width="7.4" height="7.4" fill="#fff" stroke="#E01B1B" stroke-width="1.4"/>
<rect x="701.8" y="2123.8" width="7.4" height="7.4" fill="#fff" stroke="#E01B1B" stroke-width="1.4"/>
<rect x="743.8" y="2172.8" width="7.4" height="7.4" fill="#fff" stroke="#E01B1B" stroke-width="1.4"/>
<rect x="825.9" y="2234.9" width="7.4" height="7.4" fill="#fff" stroke="#E01B1B" stroke-width="1.4"/>
<rect x="867.6" y="2256.5" width="7.4" height="7.4" fill="#fff" stroke="#E01B1B" stroke-width="1.4"/>
<rect x="909.3" y="2272.9" width="7.4" height="7.4" fill="#fff" stroke="#E01B1B" stroke-width="1.4"/>
<rect x="951.1" y="2288.8" width="7.4" height="7.4" fill="#fff" stroke="#E01B1B" stroke-width="1.4"/>
<rect x="991.9" y="2299.4" width="7.4" height="7.4" fill="#fff" stroke="#E01B1B" stroke-width="1.4"/>
<rect x="1035.1" y="2310.9" width="7.4" height="7.4" fill="#fff" stroke="#E01B1B" stroke-width="1.4"/>
<path d="M1063.3 2254.6L1075.5 2274.6L1063.3 2294.6L1051.1 2274.6z" fill="#FFCC99" stroke="#8E1010" stroke-width="2"/>
<path d="M999.4 2299.8L1011.6 2319.8L999.4 2339.8L987.2 2319.8z" fill="#FFCC99" stroke="#8E1010" stroke-width="2"/>
<path d="M1031.1 2302.1L1043.3 2322.1L1031.1 2342.1L1018.9 2322.1z" fill="#FFCC99" stroke="#8E1010" stroke-width="2"/>
<path d="M1055.2 2320.5L1067.4 2340.5L1055.2 2360.5L1043 2340.5z" fill="#FFCC99" stroke="#8E1010" stroke-width="2"/>
<circle cx="612.2" cy="1978.1" r="13.6" fill="#CCFFCC" stroke="#17663A" stroke-width="1.7"/>
<circle cx="721" cy="1978.7" r="13.6" fill="#CCFFCC" stroke="#17663A" stroke-width="1.7"/>
<circle cx="673.2" cy="2009.5" r="13.6" fill="#CCFFCC" stroke="#17663A" stroke-width="1.7"/>
<circle cx="676.8" cy="2009.5" r="13.6" fill="#CCFFCC" stroke="#17663A" stroke-width="1.7"/>
<circle cx="671.8" cy="2044.7" r="13.6" fill="#CCFFCC" stroke="#17663A" stroke-width="1.7"/>
<circle cx="815.7" cy="2082.3" r="13.6" fill="#CCFFCC" stroke="#17663A" stroke-width="1.7"/>
<circle cx="786.4" cy="2142.8" r="13.6" fill="#CCFFCC" stroke="#17663A" stroke-width="1.7"/>
<circle cx="790.7" cy="2152.3" r="13.6" fill="#CCFFCC" stroke="#17663A" stroke-width="1.7"/>
<circle cx="804.2" cy="2175.9" r="13.6" fill="#CCFFCC" stroke="#17663A" stroke-width="1.7"/>
<circle cx="783.5" cy="2192.6" r="13.6" fill="#CCFFCC" stroke="#17663A" stroke-width="1.7"/>
<circle cx="783.2" cy="2216.2" r="13.6" fill="#CCFFCC" stroke="#17663A" stroke-width="1.7"/>
<circle cx="871" cy="2157.5" r="13.6" fill="#CCFFCC" stroke="#17663A" stroke-width="1.7"/>
<circle cx="871" cy="2192.6" r="13.6" fill="#CCFFCC" stroke="#17663A" stroke-width="1.7"/>
<circle cx="850.3" cy="2258.5" r="13.6" fill="#CCFFCC" stroke="#17663A" stroke-width="1.7"/>
<circle cx="488.2" cy="2025.4" r="13.6" fill="#B6CAD8" stroke="#6B6B35" stroke-width="1.7"/>
<circle cx="437.7" cy="2091.3" r="13.6" fill="#B6CAD8" stroke="#6B6B35" stroke-width="1.7"/>
<circle cx="471.4" cy="2082.1" r="13.6" fill="#B6CAD8" stroke="#6B6B35" stroke-width="1.7"/>
<rect x="506.8" y="2094.7" width="27.6" height="27.6" fill="#FFFF00" stroke="#7A4520" stroke-width="1.6"/>
<rect x="527.2" y="2098.7" width="27.6" height="27.6" fill="#FFFF00" stroke="#7A4520" stroke-width="1.6"/>
<rect x="524.2" y="2111" width="27.6" height="27.6" fill="#FFFF00" stroke="#7A4520" stroke-width="1.6"/>
<rect x="639.7" y="2094.5" width="27.6" height="27.6" fill="#FFFF00" stroke="#7A4520" stroke-width="1.6"/>
<rect x="667.2" y="2129.6" width="27.6" height="27.6" fill="#FFFF00" stroke="#7A4520" stroke-width="1.6"/>
<path d="M206.6 1921.2 210.7 1925.5 210.7 1929.7 214.9 1929.7 219.2 1933.8 214.9 1937.9 210.7 1937.9 210.7 1942.1 206.6 1946.4 202.5 1942.1 202.5 1937.9 198.3 1937.9 194 1933.8 198.3 1929.7 202.5 1929.7 202.5 1925.5z" fill="#8DCBCB" stroke="#E8913A" stroke-width="1.3" stroke-linejoin="round"/>
<path d="M211.7 2029.6 215.8 2033.9 215.8 2038.1 220 2038.1 224.3 2042.2 220 2046.3 215.8 2046.3 215.8 2050.5 211.7 2054.8 207.6 2050.5 207.6 2046.3 203.4 2046.3 199.1 2042.2 203.4 2038.1 207.6 2038.1 207.6 2033.9z" fill="#8DCBCB" stroke="#E8913A" stroke-width="1.3" stroke-linejoin="round"/>
<path d="M270.1 2034.5 274.2 2038.8 274.2 2043 278.4 2043 282.7 2047.1 278.4 2051.2 274.2 2051.2 274.2 2055.4 270.1 2059.7 266 2055.4 266 2051.2 261.8 2051.2 257.5 2047.1 261.8 2043 266 2043 266 2038.8z" fill="#8DCBCB" stroke="#E8913A" stroke-width="1.3" stroke-linejoin="round"/>
<path d="M538.3 1994.1 542.4 1998.4 542.4 2002.6 546.6 2002.6 550.9 2006.7 546.6 2010.8 542.4 2010.8 542.4 2015 538.3 2019.3 534.2 2015 534.2 2010.8 530 2010.8 525.7 2006.7 530 2002.6 534.2 2002.6 534.2 1998.4z" fill="#8DCBCB" stroke="#E8913A" stroke-width="1.3" stroke-linejoin="round"/>
<path d="M188.1 1773.6 192.2 1777.9 192.2 1782.1 196.4 1782.1 200.7 1786.2 196.4 1790.3 192.2 1790.3 192.2 1794.5 188.1 1798.8 184 1794.5 184 1790.3 179.8 1790.3 175.5 1786.2 179.8 1782.1 184 1782.1 184 1777.9z" fill="#CCCCFF" stroke="#E8913A" stroke-width="1.3" stroke-linejoin="round"/>
<path d="M196.2 1900.3 200.3 1904.6 200.3 1908.8 204.5 1908.8 208.8 1912.9 204.5 1917 200.3 1917 200.3 1921.2 196.2 1925.5 192.1 1921.2 192.1 1917 187.9 1917 183.6 1912.9 187.9 1908.8 192.1 1908.8 192.1 1904.6z" fill="#CCCCFF" stroke="#E8913A" stroke-width="1.3" stroke-linejoin="round"/>
<path d="M227.5 1947.6 231.6 1951.9 231.6 1956.1 235.8 1956.1 240.1 1960.2 235.8 1964.3 231.6 1964.3 231.6 1968.5 227.5 1972.8 223.4 1968.5 223.4 1964.3 219.2 1964.3 214.9 1960.2 219.2 1956.1 223.4 1956.1 223.4 1951.9z" fill="#CCCCFF" stroke="#E8913A" stroke-width="1.3" stroke-linejoin="round"/>
<path d="M307.7 2029.3h16.6M316 2021v16.6M310.1 2044.5h16.6M318.4 2036.2v16.6M285.1 2047.1h16.6M293.4 2038.8v16.6M338.2 2047.5h16.6M346.5 2039.2v16.6M339.4 2054.1h16.6M347.7 2045.8v16.6M311.3 2054.1h16.6M319.6 2045.8v16.6M305.4 2056.3h16.6M313.7 2048v16.6M306.6 2064.5h16.6M314.9 2056.2v16.6M312.4 2062.7h16.6M320.7 2054.4v16.6M322.4 2070.3h16.6M330.7 2062v16.6M317.1 2072.1h16.6M325.4 2063.8v16.6M307.7 2070.9h16.6M316 2062.6v16.6M293.1 2075h16.6M301.4 2066.7v16.6M253.8 2082.3h16.6M262.1 2074v16.6M265.2 2082.3h16.6M273.5 2074v16.6M290.1 2082.3h16.6M298.4 2074v16.6M306.6 2082.3h16.6M314.9 2074v16.6M299.5 2087.9h16.6M307.8 2079.6v16.6M297.2 2100.8h16.6M305.5 2092.5v16.6M312.4 2098.5h16.6M320.7 2090.2v16.6M284.3 2112.6h16.6M292.6 2104.3v16.6M341.2 2115.2h16.6M349.5 2106.9v16.6M312.1 2152.4h16.6M320.4 2144.1v16.6M417.7 2082.1h16.6M426 2073.8v16.6M440.2 2072.3h16.6M448.5 2064v16.6" stroke="#808080" stroke-width="3.1" fill="none"/>
<path d="M570.1 1907.1h9.8v10.1h10.1v9.8h-10.1v10.1h-9.8v-10.1h-10.1v-9.8h10.1z" fill="#66FFCC" stroke="#0B3F8A" stroke-width="1.6"/>
<path d="M500.5 1949.3h9.8v10.1h10.1v9.8h-10.1v10.1h-9.8v-10.1h-10.1v-9.8h10.1z" fill="#66FFCC" stroke="#0B3F8A" stroke-width="1.6"/>
<path d="M775.1 1935.7h9.8v10.1h10.1v9.8h-10.1v10.1h-9.8v-10.1h-10.1v-9.8h10.1z" fill="#FF8CF2" stroke="#A3102E" stroke-width="1.6"/>
<path d="M806.9 1940.6h9.8v10.1h10.1v9.8h-10.1v10.1h-9.8v-10.1h-10.1v-9.8h10.1z" fill="#FF8CF2" stroke="#A3102E" stroke-width="1.6"/>
<path d="M623.6 1929.8 627.71 1941.74 640.34 1941.96 630.26 1949.56 633.95 1961.64 623.6 1954.4 613.25 1961.64 616.94 1949.56 606.86 1941.96 619.49 1941.74z" fill="#FF0000" stroke="#7F7F7F" stroke-width="1.6"/>
<path d="M755.6 2191 759.71 2202.94 772.34 2203.16 762.26 2210.76 765.95 2222.84 755.6 2215.6 745.25 2222.84 748.94 2210.76 738.86 2203.16 751.49 2202.94z" fill="#FFFF00" stroke="#000000" stroke-width="1.6"/>
<text x="0" y="0" transform="translate(195.4 1811.6) rotate(64)" style="font-size:35px;letter-spacing:0.45px">Aqueous&#160;fluids</text>
<text x="0" y="0" transform="translate(496.6 1892.1) rotate(-24.5)" style="font-size:35px;letter-spacing:0.45px">Oceanic</text>
<text x="0" y="0" transform="translate(502.5 1927) rotate(-24.5)" style="font-size:35px;letter-spacing:0.45px">sedimentary&#160;&#160;melts</text>
<text x="628.16" y="1927.98" style="font-size:29.5px;letter-spacing:1.1px">Juvenile&#160;crust</text>
<text x="202.47" y="2276.56" style="font-size:35px;letter-spacing:0.45px">Indian&#160;middle&#160;crust</text>
<text x="655.62" y="2332.26" style="font-size:35px;letter-spacing:0.45px">Continental</text>
<text x="656.43" y="2365.9" style="font-size:35px;letter-spacing:0.45px">sedimentary&#160;&#160;melts</text>
<text x="1060.26" y="1779.01" style="font-size:49px;letter-spacing:3.5px" fill="#231815">(e)</text>
<rect x="152.7" y="1706.4" width="1006.8" height="704.1" fill="none" stroke="#000" stroke-width="3.4"/>
<path d="M194.65 1706.4v17M194.65 2410.5v-17M236.6 1706.4v17M236.6 2410.5v-17M278.55 1706.4v17M278.55 2410.5v-17M320.5 1706.4v34M320.5 2410.5v-34M362.45 1706.4v17M362.45 2410.5v-17M404.4 1706.4v17M404.4 2410.5v-17M446.35 1706.4v17M446.35 2410.5v-17M488.3 1706.4v34M488.3 2410.5v-34M530.25 1706.4v17M530.25 2410.5v-17M572.2 1706.4v17M572.2 2410.5v-17M614.15 1706.4v17M614.15 2410.5v-17M656.1 1706.4v34M656.1 2410.5v-34M698.05 1706.4v17M698.05 2410.5v-17M740 1706.4v17M740 2410.5v-17M781.95 1706.4v17M781.95 2410.5v-17M823.9 1706.4v34M823.9 2410.5v-34M865.85 1706.4v17M865.85 2410.5v-17M907.8 1706.4v17M907.8 2410.5v-17M949.75 1706.4v17M949.75 2410.5v-17M991.7 1706.4v34M991.7 2410.5v-34M1033.65 1706.4v17M1033.65 2410.5v-17M1075.6 1706.4v17M1075.6 2410.5v-17M1117.55 1706.4v17M1117.55 2410.5v-17M152.7 1741.61h17M1159.5 1741.61h-17M152.7 1776.81h17M1159.5 1776.81h-17M152.7 1812.02h17M1159.5 1812.02h-17M152.7 1847.22h34M1159.5 1847.22h-34M152.7 1882.43h17M1159.5 1882.43h-17M152.7 1917.63h17M1159.5 1917.63h-17M152.7 1952.84h17M1159.5 1952.84h-17M152.7 1988.04h34M1159.5 1988.04h-34M152.7 2023.25h17M1159.5 2023.25h-17M152.7 2058.45h17M1159.5 2058.45h-17M152.7 2093.66h17M1159.5 2093.66h-17M152.7 2128.86h34M1159.5 2128.86h-34M152.7 2164.07h17M1159.5 2164.07h-17M152.7 2199.27h17M1159.5 2199.27h-17M152.7 2234.47h17M1159.5 2234.47h-17M152.7 2269.68h34M1159.5 2269.68h-34M152.7 2304.89h17M1159.5 2304.89h-17M152.7 2340.09h17M1159.5 2340.09h-17M152.7 2375.3h17M1159.5 2375.3h-17" stroke="#000" stroke-width="3.4" fill="none"/>
<text x="142.13" y="2465.83" style="font-size:38px;letter-spacing:1.8px">0</text>
<text x="309.41" y="2465.44" style="font-size:38px;letter-spacing:1.8px">1</text>
<text x="477.73" y="2465.83" style="font-size:38px;letter-spacing:1.8px">2</text>
<text x="645.64" y="2465.83" style="font-size:38px;letter-spacing:1.8px">3</text>
<text x="813.45" y="2465.44" style="font-size:38px;letter-spacing:1.8px">4</text>
<text x="981.17" y="2465.44" style="font-size:38px;letter-spacing:1.8px">5</text>
<text x="1148.8" y="2465.83" style="font-size:38px;letter-spacing:1.8px">6</text>
<text x="77.37" y="1718.54" style="font-size:38px;letter-spacing:1.8px">1.5</text>
<text x="77.57" y="1859.75" style="font-size:38px;letter-spacing:1.8px">0.9</text>
<text x="77.44" y="2000.57" style="font-size:38px;letter-spacing:1.8px">0.3</text>
<text x="62.99" y="2141.39" style="font-size:38px;letter-spacing:1.8px">-0.3</text>
<text x="63.12" y="2282.21" style="font-size:38px;letter-spacing:1.8px">-0.9</text>
<text x="62.92" y="2422.64" style="font-size:38px;letter-spacing:1.8px">-1.5</text>
<text x="-2162.62" y="32.9" transform="rotate(-90)" style="font-size:38.5px;letter-spacing:0.9px" fill="#231815">δ<tspan dy="-19.3" style="font-size:21.2px">98/95</tspan><tspan dy="19.3">Mo&#160;(‰)</tspan></text>
<text x="601.84" y="2522.3" style="font-size:38.4px;letter-spacing:1.7px">Th/Nb</text>
</g>
<g>
<rect x="1341" y="2211.11" width="1006.5" height="91.55" fill="#EFEFEF"/>
<path d="M1343 2211.11H2347.5M1343 2302.66H2347.5" stroke="#111" stroke-width="2.4" stroke-dasharray="4.8 7.1" fill="none"/>
<path d="M1534.14 2076.38 L1376.56 1895.99 L1381.87 1891.35 L1349 1872.8 L1362.97 1907.87 L1368.28 1903.23 L1525.86 2083.62z" fill="url(#g6)"/>
<path d="M1620.37 2042.65 L1878.41 1925.07 L1881.02 1930.8 L1906 1907 L1871.65 1910.24 L1874.26 1915.97 L1616.23 2033.55z" fill="url(#g7)"/>
<path d="M1505.8 2085 L1505.8 2350.8 L1499.6 2350.8 L1510.8 2378.6 L1522 2350.8 L1515.8 2350.8 L1515.8 2085z" fill="url(#g8)"/>
<path d="M1352.8 2210.7 L1366.7 2182.2 L1381.7 2158.7 L1396.2 2136 L1410.3 2114.8 L1424.5 2093.7 L1439.5 2074.9 L1452.9 2057.1 L1467.9 2038.9 L1482.2 2022.5 L1497.2 2006.7" fill="none" stroke="#666" stroke-width="2.4" stroke-dasharray="4.5 6.5"/>
<rect x="1362.8" y="2178.3" width="7.8" height="7.8" fill="#fff" stroke="#707070" stroke-width="1.4"/>
<rect x="1377.8" y="2154.8" width="7.8" height="7.8" fill="#fff" stroke="#707070" stroke-width="1.4"/>
<rect x="1392.3" y="2132.1" width="7.8" height="7.8" fill="#fff" stroke="#707070" stroke-width="1.4"/>
<rect x="1406.4" y="2110.9" width="7.8" height="7.8" fill="#fff" stroke="#707070" stroke-width="1.4"/>
<rect x="1420.6" y="2089.8" width="7.8" height="7.8" fill="#fff" stroke="#707070" stroke-width="1.4"/>
<rect x="1435.6" y="2071" width="7.8" height="7.8" fill="#fff" stroke="#707070" stroke-width="1.4"/>
<rect x="1449" y="2053.2" width="7.8" height="7.8" fill="#fff" stroke="#707070" stroke-width="1.4"/>
<rect x="1464" y="2035" width="7.8" height="7.8" fill="#fff" stroke="#707070" stroke-width="1.4"/>
<rect x="1478.3" y="2018.6" width="7.8" height="7.8" fill="#fff" stroke="#707070" stroke-width="1.4"/>
<path d="M1352.8 2210.7 L1401.6 2177.5 L1436.3 2161.5 L1477.5 2142 L1519 2122.6 L1561 2105 L1603.1 2087.7 L1645 2071 L1687 2053.9 L1728.5 2040 L1769.9 2025.7 L1812 2012.5 L1854.1 1999.1 L1936.5 1973.2 L2020.8 1951.5 L2102.9 1931.6 L2186.1 1912.9" fill="none" stroke="#666" stroke-width="2.4" stroke-dasharray="4.5 6.5"/>
<rect x="1397.7" y="2173.6" width="7.8" height="7.8" fill="#fff" stroke="#707070" stroke-width="1.4"/>
<rect x="1432.4" y="2157.6" width="7.8" height="7.8" fill="#fff" stroke="#707070" stroke-width="1.4"/>
<rect x="1515.1" y="2118.7" width="7.8" height="7.8" fill="#fff" stroke="#707070" stroke-width="1.4"/>
<rect x="1599.2" y="2083.8" width="7.8" height="7.8" fill="#fff" stroke="#707070" stroke-width="1.4"/>
<rect x="1683.1" y="2050" width="7.8" height="7.8" fill="#fff" stroke="#707070" stroke-width="1.4"/>
<rect x="1766" y="2021.8" width="7.8" height="7.8" fill="#fff" stroke="#707070" stroke-width="1.4"/>
<rect x="1850.2" y="1995.2" width="7.8" height="7.8" fill="#fff" stroke="#707070" stroke-width="1.4"/>
<rect x="1932.6" y="1969.3" width="7.8" height="7.8" fill="#fff" stroke="#707070" stroke-width="1.4"/>
<rect x="2016.9" y="1947.6" width="7.8" height="7.8" fill="#fff" stroke="#707070" stroke-width="1.4"/>
<rect x="2099" y="1927.7" width="7.8" height="7.8" fill="#fff" stroke="#707070" stroke-width="1.4"/>
<path d="M1467.8 1947.4 L1463 2058.2 L1461.2 2093 L1459.4 2127.7 L1454.4 2176.5 L1449.5 2211.3 L1444.4 2238.1 L1440.1 2260.5 L1435.6 2277.4 L1430.3 2292.4 L1426.2 2303.1" fill="none" stroke="#E01B1B" stroke-width="2.2" stroke-dasharray="4 5.5"/>
<rect x="1459.3" y="2054.5" width="7.4" height="7.4" fill="#fff" stroke="#E01B1B" stroke-width="1.4"/>
<rect x="1455.7" y="2124" width="7.4" height="7.4" fill="#fff" stroke="#E01B1B" stroke-width="1.4"/>
<rect x="1450.7" y="2172.8" width="7.4" height="7.4" fill="#fff" stroke="#E01B1B" stroke-width="1.4"/>
<rect x="1445.8" y="2207.6" width="7.4" height="7.4" fill="#fff" stroke="#E01B1B" stroke-width="1.4"/>
<rect x="1440.7" y="2234.4" width="7.4" height="7.4" fill="#fff" stroke="#E01B1B" stroke-width="1.4"/>
<rect x="1436.4" y="2256.8" width="7.4" height="7.4" fill="#fff" stroke="#E01B1B" stroke-width="1.4"/>
<rect x="1431.9" y="2273.7" width="7.4" height="7.4" fill="#fff" stroke="#E01B1B" stroke-width="1.4"/>
<rect x="1426.6" y="2288.7" width="7.4" height="7.4" fill="#fff" stroke="#E01B1B" stroke-width="1.4"/>
<rect x="1422.5" y="2299.4" width="7.4" height="7.4" fill="#fff" stroke="#E01B1B" stroke-width="1.4"/>
<path d="M1412.3 2254.9L1424.5 2274.9L1412.3 2294.9L1400.1 2274.9z" fill="#FFCC99" stroke="#8E1010" stroke-width="2"/>
<path d="M1422.4 2300.2L1434.6 2320.2L1422.4 2340.2L1410.2 2320.2z" fill="#FFCC99" stroke="#8E1010" stroke-width="2"/>
<path d="M1435.8 2299.4L1448 2319.4L1435.8 2339.4L1423.6 2319.4z" fill="#FFCC99" stroke="#8E1010" stroke-width="2"/>
<path d="M1413.2 2320.5L1425.4 2340.5L1413.2 2360.5L1401 2340.5z" fill="#FFCC99" stroke="#8E1010" stroke-width="2"/>
<circle cx="1429.7" cy="1978.1" r="13.6" fill="#CCFFCC" stroke="#17663A" stroke-width="1.7"/>
<circle cx="1432" cy="2009.2" r="13.6" fill="#CCFFCC" stroke="#17663A" stroke-width="1.7"/>
<circle cx="1493.4" cy="2009.2" r="13.6" fill="#CCFFCC" stroke="#17663A" stroke-width="1.7"/>
<circle cx="1490.4" cy="2044.4" r="13.6" fill="#CCFFCC" stroke="#17663A" stroke-width="1.7"/>
<circle cx="1602.9" cy="1978.7" r="13.6" fill="#CCFFCC" stroke="#17663A" stroke-width="1.7"/>
<circle cx="1497.9" cy="2081.7" r="13.6" fill="#CCFFCC" stroke="#17663A" stroke-width="1.7"/>
<circle cx="1414.9" cy="2142.9" r="13.6" fill="#CCFFCC" stroke="#17663A" stroke-width="1.7"/>
<circle cx="1408.4" cy="2157.2" r="13.6" fill="#CCFFCC" stroke="#17663A" stroke-width="1.7"/>
<circle cx="1414.9" cy="2152.5" r="13.6" fill="#CCFFCC" stroke="#17663A" stroke-width="1.7"/>
<circle cx="1428.1" cy="2175.8" r="13.6" fill="#CCFFCC" stroke="#17663A" stroke-width="1.7"/>
<circle cx="1389.6" cy="2192.1" r="13.6" fill="#CCFFCC" stroke="#17663A" stroke-width="1.7"/>
<circle cx="1411.2" cy="2192.1" r="13.6" fill="#CCFFCC" stroke="#17663A" stroke-width="1.7"/>
<circle cx="1479" cy="2216" r="13.6" fill="#CCFFCC" stroke="#17663A" stroke-width="1.7"/>
<circle cx="1426.6" cy="2257.8" r="13.6" fill="#CCFFCC" stroke="#17663A" stroke-width="1.7"/>
<circle cx="1576" cy="2025.6" r="13.6" fill="#B6CAD8" stroke="#6B6B35" stroke-width="1.7"/>
<circle cx="1583.2" cy="2091.5" r="13.6" fill="#B6CAD8" stroke="#6B6B35" stroke-width="1.7"/>
<circle cx="1568.4" cy="2082.4" r="13.6" fill="#B6CAD8" stroke="#6B6B35" stroke-width="1.7"/>
<rect x="1396.6" y="2093.9" width="27.6" height="27.6" fill="#FFFF00" stroke="#7A4520" stroke-width="1.6"/>
<rect x="1389.6" y="2098.6" width="27.6" height="27.6" fill="#FFFF00" stroke="#7A4520" stroke-width="1.6"/>
<rect x="1385.7" y="2129.5" width="27.6" height="27.6" fill="#FFFF00" stroke="#7A4520" stroke-width="1.6"/>
<rect x="1402.6" y="2110.6" width="27.6" height="27.6" fill="#FFFF00" stroke="#7A4520" stroke-width="1.6"/>
<rect x="1383.5" y="2094.2" width="27.6" height="27.6" fill="#FFFF00" stroke="#7A4520" stroke-width="1.6"/>
<path d="M1497.2 1994.1 1501.3 1998.4 1501.3 2002.6 1505.5 2002.6 1509.8 2006.7 1505.5 2010.8 1501.3 2010.8 1501.3 2015 1497.2 2019.3 1493.1 2015 1493.1 2010.8 1488.9 2010.8 1484.6 2006.7 1488.9 2002.6 1493.1 2002.6 1493.1 1998.4z" fill="#8DCBCB" stroke="#E8913A" stroke-width="1.3" stroke-linejoin="round"/>
<path d="M1811.2 1921.2 1815.3 1925.5 1815.3 1929.7 1819.5 1929.7 1823.8 1933.8 1819.5 1937.9 1815.3 1937.9 1815.3 1942.1 1811.2 1946.4 1807.1 1942.1 1807.1 1937.9 1802.9 1937.9 1798.6 1933.8 1802.9 1929.7 1807.1 1929.7 1807.1 1925.5z" fill="#8DCBCB" stroke="#E8913A" stroke-width="1.3" stroke-linejoin="round"/>
<path d="M1616.7 2029.1 1620.8 2033.4 1620.8 2037.6 1625 2037.6 1629.3 2041.7 1625 2045.8 1620.8 2045.8 1620.8 2050 1616.7 2054.3 1612.6 2050 1612.6 2045.8 1608.4 2045.8 1604.1 2041.7 1608.4 2037.6 1612.6 2037.6 1612.6 2033.4z" fill="#8DCBCB" stroke="#E8913A" stroke-width="1.3" stroke-linejoin="round"/>
<path d="M1721.3 2034.1 1725.4 2038.4 1725.4 2042.6 1729.6 2042.6 1733.9 2046.7 1729.6 2050.8 1725.4 2050.8 1725.4 2055 1721.3 2059.3 1717.2 2055 1717.2 2050.8 1713 2050.8 1708.7 2046.7 1713 2042.6 1717.2 2042.6 1717.2 2038.4z" fill="#8DCBCB" stroke="#E8913A" stroke-width="1.3" stroke-linejoin="round"/>
<path d="M1650.8 1947.6 1654.9 1951.9 1654.9 1956.1 1659.1 1956.1 1663.4 1960.2 1659.1 1964.3 1654.9 1964.3 1654.9 1968.5 1650.8 1972.8 1646.7 1968.5 1646.7 1964.3 1642.5 1964.3 1638.2 1960.2 1642.5 1956.1 1646.7 1956.1 1646.7 1951.9z" fill="#CCCCFF" stroke="#E8913A" stroke-width="1.3" stroke-linejoin="round"/>
<path d="M2211.1 1773.6 2215.2 1777.9 2215.2 1782.1 2219.4 1782.1 2223.7 1786.2 2219.4 1790.3 2215.2 1790.3 2215.2 1794.5 2211.1 1798.8 2207 1794.5 2207 1790.3 2202.8 1790.3 2198.5 1786.2 2202.8 1782.1 2207 1782.1 2207 1777.9z" fill="#CCCCFF" stroke="#E8913A" stroke-width="1.3" stroke-linejoin="round"/>
<path d="M2186.1 1900.3 2190.2 1904.6 2190.2 1908.8 2194.4 1908.8 2198.7 1912.9 2194.4 1917 2190.2 1917 2190.2 1921.2 2186.1 1925.5 2182 1921.2 2182 1917 2177.8 1917 2173.5 1912.9 2177.8 1908.8 2182 1908.8 2182 1904.6z" fill="#CCCCFF" stroke="#E8913A" stroke-width="1.3" stroke-linejoin="round"/>
<path d="M1532.8 2027.8h16.6M1541.1 2019.5v16.6M1530.6 2044.3h16.6M1538.9 2036v16.6M1544.1 2056h16.6M1552.4 2047.7v16.6M1528.5 2065.2h16.6M1536.8 2056.9v16.6M1515 2072.7h16.6M1523.3 2064.4v16.6M1576.6 2046.4h16.6M1584.9 2038.1v16.6M1574.5 2065.2h16.6M1582.8 2056.9v16.6M1604 2074.9h16.6M1612.3 2066.6v16.6M1614.1 2063.1h16.6M1622.4 2054.8v16.6M1610.8 2057.8h16.6M1619.1 2049.5v16.6M1553.1 2112.3h16.6M1561.4 2104v16.6M1614.1 2114.9h16.6M1622.4 2106.6v16.6M1481.4 2101h16.6M1489.7 2092.7v16.6M1506.7 2151.9h16.6M1515 2143.6v16.6M1491.1 2028.9h16.6M1499.4 2020.6v16.6M1669.7 2054.5h16.6M1678 2046.2v16.6M1675 2082.4h16.6M1683.3 2074.1v16.6M1682.5 2070.6h16.6M1690.8 2062.3v16.6M1686.8 2072.7h16.6M1695.1 2064.4v16.6M1733.8 2082.7h16.6M1742.1 2074.4v16.6M1952.6 2082.7h16.6M1960.9 2074.4v16.6M1690.5 2074.6h16.6M1698.8 2066.3v16.6" stroke="#808080" stroke-width="3.1" fill="none"/>
<path d="M1385.9 1907.1h9.8v10.1h10.1v9.8h-10.1v10.1h-9.8v-10.1h-10.1v-9.8h10.1z" fill="#66FFCC" stroke="#0B3F8A" stroke-width="1.6"/>
<path d="M1405.2 1949.3h9.8v10.1h10.1v9.8h-10.1v10.1h-9.8v-10.1h-10.1v-9.8h10.1z" fill="#66FFCC" stroke="#0B3F8A" stroke-width="1.6"/>
<path d="M1361.2 1940.2h9.8v10.1h10.1v9.8h-10.1v10.1h-9.8v-10.1h-10.1v-9.8h10.1z" fill="#FF8CF2" stroke="#A3102E" stroke-width="1.6"/>
<path d="M1367.1 1935.4h9.8v10.1h10.1v9.8h-10.1v10.1h-9.8v-10.1h-10.1v-9.8h10.1z" fill="#FF8CF2" stroke="#A3102E" stroke-width="1.6"/>
<path d="M1468 1929.4 1472.11 1941.34 1484.74 1941.56 1474.66 1949.16 1478.35 1961.24 1468 1954 1457.65 1961.24 1461.34 1949.16 1451.26 1941.56 1463.89 1941.34z" fill="#FF0000" stroke="#7F7F7F" stroke-width="1.6"/>
<path d="M1352.8 2193.1 1356.91 2205.04 1369.54 2205.26 1359.46 2212.86 1363.15 2224.94 1352.8 2217.7 1342.45 2224.94 1346.14 2212.86 1336.06 2205.26 1348.69 2205.04z" fill="#FFFF00" stroke="#000000" stroke-width="1.6"/>
<text x="1391.94" y="1820.56" style="font-size:35px;letter-spacing:0.45px">Oceanic</text>
<text x="1392.63" y="1855" style="font-size:35px;letter-spacing:0.45px">sedimentary&#160;&#160;melts</text>
<text x="1427.04" y="1926.68" style="font-size:29.5px;letter-spacing:1.1px">Juvenile&#160;crust</text>
<text x="0" y="0" transform="translate(1800.6 1995.7) rotate(-22.5)" style="font-size:35px;letter-spacing:0.45px">Aqueous&#160;fluids</text>
<text x="1522.87" y="2276.66" style="font-size:35px;letter-spacing:0.45px">Indian&#160;middle&#160;crust</text>
<text x="1528.62" y="2337.66" style="font-size:35px;letter-spacing:0.45px">Continental</text>
<text x="1529.43" y="2371.1" style="font-size:35px;letter-spacing:0.45px">sedimentary&#160;&#160;melts</text>
<text x="2254.26" y="1779.01" style="font-size:49px;letter-spacing:3.5px" fill="#231815">(f)</text>
<rect x="1909.2" y="2166.1" width="415.1" height="222.7" fill="#fff" stroke="#000" stroke-width="2" stroke-dasharray="5.8 4.2"/>
<path d="M1932.26 2178.9h5.68v5.86h5.86v5.68h-5.86v5.86h-5.68v-5.86h-5.86v-5.68h5.86z" fill="#66FFCC" stroke="#0B3F8A" stroke-width="1.6"/>
<text x="1968.81" y="2195.97" style="font-size:23px;letter-spacing:0.8px">Eocene&#160;&#160;Jirong&#160;&#160;granites</text>
<path d="M1932.26 2216.3h5.68v5.86h5.86v5.68h-5.86v5.86h-5.68v-5.86h-5.86v-5.68h5.86z" fill="#FF8CF2" stroke="#A3102E" stroke-width="1.6"/>
<text x="1968.81" y="2233.27" style="font-size:23px;letter-spacing:0.8px">Eocene&#160;&#160;Xiongcun&#160;&#160;granites</text>
<rect x="1927.7" y="2252.3" width="14.8" height="14.8" fill="#FFFF00" stroke="#7A4520" stroke-width="1.6"/>
<text x="1969.61" y="2267.87" style="font-size:23px;letter-spacing:0.8px">Oligocene&#160;Chongmuda&#160;CBPs</text>
<circle cx="1935.1" cy="2295.3" r="8.8" fill="#CCFFCC" stroke="#17663A" stroke-width="1.7"/>
<text x="1968.81" y="2303.07" style="font-size:23px;letter-spacing:0.8px">Miocene&#160;&#160;Tinggong&#160;&#160;CBPs</text>
<circle cx="1935.1" cy="2330.5" r="8.8" fill="#B6CAD8" stroke="#6B6B35" stroke-width="1.7"/>
<text x="1968.81" y="2338.17" style="font-size:23px;letter-spacing:0.8px">Miocene&#160;&#160;ore-barren&#160;granites</text>
<path d="M1935.1 2353.8L1943.1 2365.8L1935.1 2377.8L1927.1 2365.8z" fill="#FFCC99" stroke="#8E1010" stroke-width="1.6"/>
<text x="1968.81" y="2373.37" style="font-size:23px;letter-spacing:0.8px">Miocene&#160;&#160;Tinggong&#160;HMDs</text>
<rect x="1341" y="1706.4" width="1006.5" height="704.1" fill="none" stroke="#000" stroke-width="3.4"/>
<path d="M1391.33 1706.4v17M1391.33 2410.5v-17M1441.65 1706.4v17M1441.65 2410.5v-17M1491.97 1706.4v17M1491.97 2410.5v-17M1542.3 1706.4v34M1542.3 2410.5v-34M1592.62 1706.4v17M1592.62 2410.5v-17M1642.95 1706.4v17M1642.95 2410.5v-17M1693.28 1706.4v17M1693.28 2410.5v-17M1743.6 1706.4v34M1743.6 2410.5v-34M1793.92 1706.4v17M1793.92 2410.5v-17M1844.25 1706.4v17M1844.25 2410.5v-17M1894.58 1706.4v17M1894.58 2410.5v-17M1944.9 1706.4v34M1944.9 2410.5v-34M1995.22 1706.4v17M1995.22 2410.5v-17M2045.55 1706.4v17M2045.55 2410.5v-17M2095.88 1706.4v17M2095.88 2410.5v-17M2146.2 1706.4v34M2146.2 2410.5v-34M2196.53 1706.4v17M2196.53 2410.5v-17M2246.85 1706.4v17M2246.85 2410.5v-17M2297.18 1706.4v17M2297.18 2410.5v-17M1341 1741.61h17M2347.5 1741.61h-17M1341 1776.81h17M2347.5 1776.81h-17M1341 1812.02h17M2347.5 1812.02h-17M1341 1847.22h34M2347.5 1847.22h-34M1341 1882.43h17M2347.5 1882.43h-17M1341 1917.63h17M2347.5 1917.63h-17M1341 1952.84h17M2347.5 1952.84h-17M1341 1988.04h34M2347.5 1988.04h-34M1341 2023.25h17M2347.5 2023.25h-17M1341 2058.45h17M2347.5 2058.45h-17M1341 2093.66h17M2347.5 2093.66h-17M1341 2128.86h34M2347.5 2128.86h-34M1341 2164.07h17M2347.5 2164.07h-17M1341 2199.27h17M2347.5 2199.27h-17M1341 2234.47h17M2347.5 2234.47h-17M1341 2269.68h34M2347.5 2269.68h-34M1341 2304.89h17M2347.5 2304.89h-17M1341 2340.09h17M2347.5 2340.09h-17M1341 2375.3h17M2347.5 2375.3h-17" stroke="#000" stroke-width="3.4" fill="none"/>
<text x="1330.43" y="2465.83" style="font-size:38px;letter-spacing:1.8px">0</text>
<text x="1520.18" y="2465.83" style="font-size:38px;letter-spacing:1.8px">80</text>
<text x="1709.39" y="2465.83" style="font-size:38px;letter-spacing:1.8px">160</text>
<text x="1911.19" y="2465.83" style="font-size:38px;letter-spacing:1.8px">240</text>
<text x="2112.72" y="2465.83" style="font-size:38px;letter-spacing:1.8px">320</text>
<text x="2314.31" y="2465.83" style="font-size:38px;letter-spacing:1.8px">400</text>
<text x="1265.67" y="1718.54" style="font-size:38px;letter-spacing:1.8px">1.5</text>
<text x="1265.87" y="1859.75" style="font-size:38px;letter-spacing:1.8px">0.9</text>
<text x="1265.74" y="2000.57" style="font-size:38px;letter-spacing:1.8px">0.3</text>
<text x="1251.29" y="2141.39" style="font-size:38px;letter-spacing:1.8px">-0.3</text>
<text x="1251.42" y="2282.21" style="font-size:38px;letter-spacing:1.8px">-0.9</text>
<text x="1251.22" y="2422.64" style="font-size:38px;letter-spacing:1.8px">-1.5</text>
<text x="-2162.62" y="1221.2" transform="rotate(-90)" style="font-size:38.5px;letter-spacing:0.9px" fill="#231815">δ<tspan dy="-19.3" style="font-size:21.2px">98/95</tspan><tspan dy="19.3">Mo&#160;(‰)</tspan></text>
<text x="1790.25" y="2522.3" style="font-size:38.4px;letter-spacing:1.65px">Ba/Th</text>
</g>
</svg>
</body></html>
